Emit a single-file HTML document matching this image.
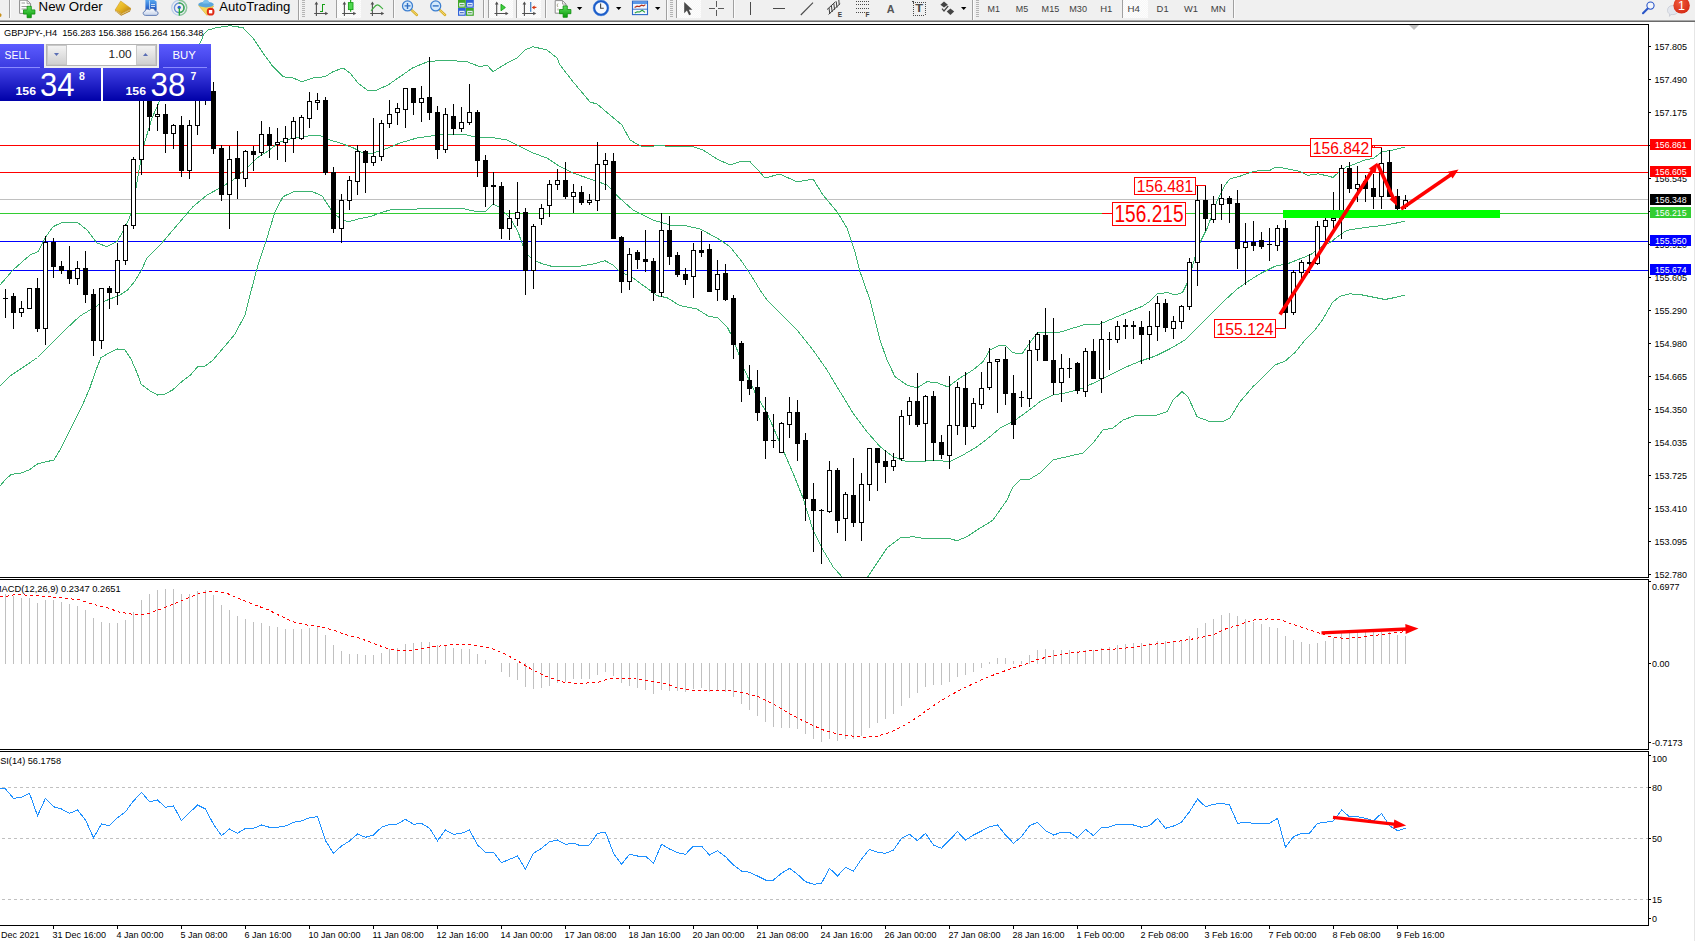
<!DOCTYPE html>
<html><head><meta charset="utf-8"><title>GBPJPY H4</title><style>html,body{margin:0;padding:0;background:#fff}</style></head><body>
<svg width="1695" height="941" viewBox="0 0 1695 941" font-family="Liberation Sans, sans-serif" style="display:block">
<defs>
<linearGradient id="gbtn" x1="0" y1="0" x2="0" y2="1"><stop offset="0" stop-color="#5c5cff"/><stop offset="1" stop-color="#3a3ae0"/></linearGradient>
<linearGradient id="gprice" x1="0" y1="0" x2="0" y2="1"><stop offset="0" stop-color="#4242e6"/><stop offset="1" stop-color="#0000a8"/></linearGradient>
<linearGradient id="gspin" x1="0" y1="0" x2="0" y2="1"><stop offset="0" stop-color="#f4f4f4"/><stop offset="1" stop-color="#cfcfcf"/></linearGradient>
<clipPath id="cmain"><rect x="0" y="25" width="1648" height="552"/></clipPath>
<clipPath id="cmacd"><rect x="0" y="580" width="1648" height="169"/></clipPath>
<clipPath id="crsi"><rect x="0" y="752" width="1648" height="173"/></clipPath>
</defs>
<rect x="0" y="0" width="1695" height="941" fill="#fff" />
<rect x="1694" y="22" width="1" height="919" fill="#e6e6e6" shape-rendering="crispEdges"/>
<defs>
<linearGradient id="ggold" x1="0" y1="0" x2="1" y2="1"><stop offset="0" stop-color="#f7d84a"/><stop offset="0.5" stop-color="#e6b422"/><stop offset="1" stop-color="#a8700c"/></linearGradient>
<linearGradient id="ggreen" x1="0" y1="0" x2="0" y2="1"><stop offset="0" stop-color="#5ee05e"/><stop offset="1" stop-color="#0a9a0a"/></linearGradient>
<linearGradient id="gblue" x1="0" y1="0" x2="0" y2="1"><stop offset="0" stop-color="#5aa8f0"/><stop offset="1" stop-color="#1a50c0"/></linearGradient>
<linearGradient id="gcloud" x1="0" y1="0" x2="0" y2="1"><stop offset="0" stop-color="#ffffff"/><stop offset="1" stop-color="#c4d2ea"/></linearGradient>
<radialGradient id="gred" cx="0.4" cy="0.35" r="0.7"><stop offset="0" stop-color="#f05a3c"/><stop offset="1" stop-color="#d42a14"/></radialGradient>
<pattern id="chk" width="2" height="2" patternUnits="userSpaceOnUse"><rect width="2" height="2" fill="#f7f7f7"/><rect width="1" height="1" fill="#fdfdfd"/><rect x="1" y="1" width="1" height="1" fill="#fdfdfd"/></pattern>
</defs>
<g>
<rect x="0" y="0" width="1695" height="20" fill="#f0f0f0"/>
<rect x="0" y="20" width="1695" height="1" fill="#a8a8a8" shape-rendering="crispEdges"/>
<rect x="0" y="21" width="1695" height="1" fill="#6a6a6a" shape-rendering="crispEdges"/>
<polygon points="0,13 1.6,14.5 1.2,16.5 0,17" fill="#c8901a"/>
<rect x="9" y="0" width="1" height="18" fill="#a0a0a0" shape-rendering="crispEdges"/><rect x="10" y="0" width="1" height="18" fill="#fbfbfb" shape-rendering="crispEdges"/>
<path d="M19.6,0.2h7.5l3.5,3.5v9.7h-11z" fill="#fdfdfd" stroke="#8c8c8c" stroke-width="1"/>
<path d="M27.1,0.2v3.5h3.5" fill="none" stroke="#8c8c8c" stroke-width="0.8"/>
<g stroke="#9a9a9a" stroke-width="1"><path d="M21.5,3h3.5M21.5,6.5h6M21.5,9h5"/></g>
<path d="M27.099999999999998,6.3h4.2v3.6h3.6v4.2h-3.6v3.6h-4.2v-3.6h-3.6v-4.2h3.6z" fill="url(#ggreen)" stroke="#0a8a0a" stroke-width="0.8"/>
<text x="38.6" y="11" font-size="12.5" fill="#000" textLength="64.2" lengthAdjust="spacingAndGlyphs">New Order</text>
<polygon points="115.1,10 122,13.6 131,8.6 130,11.4 121.2,15.8 115.1,11" fill="#b07a12"/>
<polygon points="120.7,1 131,8.5 122,13.6 115.1,10" fill="url(#ggold)" stroke="#c89018" stroke-width="0.5"/>
<path d="M115.6,11l5.8,3.4l8.4,-4.2" fill="none" stroke="#f6e2a0" stroke-width="0.7"/>
<path d="M145.4,0h8.8l2.4,1.4v9h-11.2z" fill="url(#gblue)"/>
<path d="M149.5,0.5v9" stroke="#cfe4fa" stroke-width="0.8"/><path d="M151,4.5h4M151,6.5h4" stroke="#e8f2fc" stroke-width="0.8"/>
<path d="M145.6,15.4c-2.8,0 -3.4,-3.6 -0.6,-4.2c0.3,-2.4 3.2,-2.8 4.3,-1.3c1.6,-2.4 5.6,-1.8 5.9,1.1c3.4,-0.4 4,4.1 0.9,4.4z" fill="url(#gcloud)" stroke="#5673ae" stroke-width="0.9"/>
<g fill="none" stroke-linecap="round"><circle cx="179.2" cy="7.8" r="7.5" stroke="#b8cdea" stroke-width="1.2"/><circle cx="179.2" cy="7.8" r="4.8" stroke="#6a8fd8" stroke-width="1.4"/>
<path d="M179.2,0.3a7.5,7.5 0 0 1 0,15" stroke="#8cc896" stroke-width="1.3"/><path d="M179.2,3a4.8,4.8 0 0 1 0,9.6" stroke="#3fae50" stroke-width="1.5"/></g>
<circle cx="179.2" cy="7.4" r="1.7" fill="#2c5fd0"/><rect x="178.7" y="8" width="1.3" height="7.4" fill="#24a83a"/>
<path d="M198.6,5.6l8.4,9.8l3,-4l3.6,-5.4z" fill="#f3d65c" stroke="#d8b030" stroke-width="0.6"/>
<ellipse cx="206" cy="4.6" rx="7.8" ry="2.8" fill="#5aa6dc"/><path d="M202.4,3.6c0.6,-3 1.6,-3.8 3.6,-3.8s3,0.8 3.6,3.8z" fill="#7cc0ec"/>
<circle cx="210.6" cy="11.7" r="3.9" fill="#e02a14"/><rect x="208.9" y="10" width="3.4" height="3.4" fill="#fff"/>
<text x="219.3" y="10.8" font-size="12.5" fill="#000" textLength="71" lengthAdjust="spacingAndGlyphs">AutoTrading</text>
<rect x="298" y="0" width="1" height="20" fill="#a0a0a0" shape-rendering="crispEdges"/><rect x="299" y="0" width="1" height="20" fill="#fbfbfb" shape-rendering="crispEdges"/>
<rect x="302" y="0" width="3" height="1" fill="#b4b4b4" shape-rendering="crispEdges"/>
<rect x="302" y="2" width="3" height="1" fill="#b4b4b4" shape-rendering="crispEdges"/>
<rect x="302" y="4" width="3" height="1" fill="#b4b4b4" shape-rendering="crispEdges"/>
<rect x="302" y="6" width="3" height="1" fill="#b4b4b4" shape-rendering="crispEdges"/>
<rect x="302" y="8" width="3" height="1" fill="#b4b4b4" shape-rendering="crispEdges"/>
<rect x="302" y="10" width="3" height="1" fill="#b4b4b4" shape-rendering="crispEdges"/>
<rect x="302" y="12" width="3" height="1" fill="#b4b4b4" shape-rendering="crispEdges"/>
<rect x="302" y="14" width="3" height="1" fill="#b4b4b4" shape-rendering="crispEdges"/>
<rect x="302" y="16" width="3" height="1" fill="#b4b4b4" shape-rendering="crispEdges"/>
<g stroke="#505050" stroke-width="1.1" fill="none"><path d="M316.4,3v13M314.2,13.5h13"/></g>
<polygon points="316.4,1.5 314.59999999999997,4.6 318.2,4.6" fill="#505050"/>
<polygon points="328.2,13.5 325.2,11.7 325.2,15.3" fill="#505050"/>
<g fill="#18a018" shape-rendering="crispEdges"><rect x="322" y="4" width="1.4" height="8"/><rect x="320" y="10.6" width="2" height="1.4"/><rect x="323" y="4" width="2.2" height="1.4"/></g>
<rect x="336" y="0" width="1" height="18" fill="#a0a0a0" shape-rendering="crispEdges"/><rect x="337" y="0" width="1" height="18" fill="#fbfbfb" shape-rendering="crispEdges"/>
<rect x="338" y="0" width="23" height="18" fill="url(#chk)" shape-rendering="crispEdges"/>
<g stroke="#505050" stroke-width="1.1" fill="none"><path d="M344.4,3v13M342.2,13.5h13"/></g>
<polygon points="344.4,1.5 342.59999999999997,4.6 346.2,4.6" fill="#505050"/>
<polygon points="356.2,13.5 353.2,11.7 353.2,15.3" fill="#505050"/>
<rect x="350.1" y="0" width="1.1" height="11.8" fill="#18a018"/><rect x="348.4" y="2.6" width="4.6" height="7" fill="#4fd84f" stroke="#18a018" stroke-width="0.9"/>
<g stroke="#505050" stroke-width="1.1" fill="none"><path d="M372.4,3v13M370.2,13.5h13"/></g>
<polygon points="372.4,1.5 370.59999999999997,4.6 374.2,4.6" fill="#505050"/>
<polygon points="384.2,13.5 381.2,11.7 381.2,15.3" fill="#505050"/>
<path d="M371,10.8c2.5,-2 4,-6 6.4,-6s3.4,3 5.6,4.2" stroke="#3fae3f" stroke-width="1.2" fill="none"/>
<rect x="393" y="0" width="1" height="18" fill="#a0a0a0" shape-rendering="crispEdges"/><rect x="394" y="0" width="1" height="18" fill="#fbfbfb" shape-rendering="crispEdges"/>
<path d="M411.1,9.6l5.8,5.4" stroke="#d8ae28" stroke-width="2.4" stroke-linecap="round"/><path d="M411.4,9.9l5.3,4.9" stroke="#f4e07a" stroke-width="0.9" stroke-linecap="round"/>
<circle cx="407.5" cy="5.9" r="5" fill="#d4e9fb" stroke="#3d7fd0" stroke-width="1.3"/>
<path d="M404.5,5.9h6M407.5,2.9v6" stroke="#2f6fc4" stroke-width="1.4"/>
<path d="M439.3,9.6l5.8,5.4" stroke="#d8ae28" stroke-width="2.4" stroke-linecap="round"/><path d="M439.59999999999997,9.9l5.3,4.9" stroke="#f4e07a" stroke-width="0.9" stroke-linecap="round"/>
<circle cx="435.7" cy="5.9" r="5" fill="#d4e9fb" stroke="#3d7fd0" stroke-width="1.3"/>
<path d="M432.7,5.9h6" stroke="#2f6fc4" stroke-width="1.4"/>
<rect x="458" y="0" width="7.8" height="7.8" fill="#3fa628"/><rect x="459.2" y="2.8" width="5.4" height="3.8" fill="#e8f0fa"/><rect x="460" y="4.3" width="3.8" height="0.9" fill="#2c8a1a"/>
<rect x="466" y="0" width="7.8" height="7.8" fill="#2f62d8"/><rect x="467.2" y="2.8" width="5.4" height="3.8" fill="#e8f0fa"/><rect x="468" y="4.3" width="3.8" height="0.9" fill="#1c44b4"/>
<rect x="458" y="8" width="7.8" height="7.8" fill="#2f62d8"/><rect x="459.2" y="10.8" width="5.4" height="3.8" fill="#e8f0fa"/><rect x="460" y="12.3" width="3.8" height="0.9" fill="#1c44b4"/>
<rect x="466" y="8" width="7.8" height="7.8" fill="#3fa628"/><rect x="467.2" y="10.8" width="5.4" height="3.8" fill="#e8f0fa"/><rect x="468" y="12.3" width="3.8" height="0.9" fill="#2c8a1a"/>
<rect x="483" y="0" width="1" height="18" fill="#a0a0a0" shape-rendering="crispEdges"/><rect x="484" y="0" width="1" height="18" fill="#fbfbfb" shape-rendering="crispEdges"/>
<rect x="488" y="0" width="1" height="18" fill="#a0a0a0" shape-rendering="crispEdges"/>
<rect x="489" y="0" width="24" height="18" fill="url(#chk)" shape-rendering="crispEdges"/>
<g stroke="#505050" stroke-width="1.1" fill="none"><path d="M496.7,3v13M494.5,13.5h13"/></g>
<polygon points="496.7,1.5 494.9,4.6 498.5,4.6" fill="#505050"/>
<polygon points="508.5,13.5 505.5,11.7 505.5,15.3" fill="#505050"/>
<polygon points="501,4.2 501,10.8 505.4,7.5" fill="#3fd03f" stroke="#18a018" stroke-width="0.9"/>
<rect x="516" y="0" width="1" height="18" fill="#a0a0a0" shape-rendering="crispEdges"/><rect x="517" y="0" width="1" height="18" fill="#fbfbfb" shape-rendering="crispEdges"/>
<rect x="518" y="0" width="23" height="18" fill="url(#chk)" shape-rendering="crispEdges"/>
<g stroke="#505050" stroke-width="1.1" fill="none"><path d="M524.4000000000001,3v13M522.2,13.5h13"/></g>
<polygon points="524.4000000000001,1.5 522.6,4.6 526.2,4.6" fill="#505050"/>
<polygon points="536.2,13.5 533.2,11.7 533.2,15.3" fill="#505050"/>
<rect x="530.2" y="2" width="1.1" height="9.8" fill="#2a6fb8"/><path d="M536.4,7.4h-3.6" stroke="#d83a14" stroke-width="1.2"/><polygon points="531.8,7.4 534.6,5.4 534.6,9.4" fill="#d83a14"/>
<rect x="545" y="0" width="1" height="18" fill="#a0a0a0" shape-rendering="crispEdges"/><rect x="546" y="0" width="1" height="18" fill="#fbfbfb" shape-rendering="crispEdges"/>
<path d="M555.2,0.6h7.300000000000001l3.5,3.5v9.1h-10.8z" fill="#fdfdfd" stroke="#8c8c8c" stroke-width="1"/>
<path d="M562.5,0.6v3.5h3.5" fill="none" stroke="#8c8c8c" stroke-width="0.8"/>
<path d="M558,3.5c-1,1 -1,2.5 0,3.5M558,8.5v2" stroke="#8a8a6a" stroke-width="0.8" fill="none"/>
<path d="M563.1,5.8999999999999995h4.2v3.6h3.6v4.2h-3.6v3.6h-4.2v-3.6h-3.6v-4.2h3.6z" fill="url(#ggreen)" stroke="#0a8a0a" stroke-width="0.8"/>
<polygon points="576.9,7 582.3,7 579.6,10" fill="#000"/>
<circle cx="601" cy="8" r="6.9" fill="#f6f9fd" stroke="#1c5cc8" stroke-width="2.2"/><circle cx="601" cy="8" r="7.9" fill="none" stroke="#5a94e4" stroke-width="0.5"/>
<path d="M600.6,3.6v4.6h3.2" stroke="#444" stroke-width="1.1" fill="none"/>
<polygon points="616,7 621.4,7 618.7,10" fill="#000"/>
<rect x="632.5" y="1.2" width="15" height="13.4" fill="#f4f8fd" stroke="#2c68c8" stroke-width="1.1"/><rect x="633" y="1.6" width="14" height="2.4" fill="#5a98e8"/>
<path d="M633,9.2h14" stroke="#2c68c8" stroke-width="0.9"/>
<path d="M634.6,7.6l2.4,-1.4l2.2,0.4l2.4,-1.4l2,0.6l1.8,-1.2" stroke="#b4301c" stroke-width="1.1" fill="none"/>
<path d="M634.8,13l2.4,-1.2l2.4,0.2l2.6,-1.8l2.8,2.2" stroke="#22a03a" stroke-width="1.1" fill="none"/>
<polygon points="655,7 660.4,7 657.7,10" fill="#000"/>
<rect x="666" y="0" width="1" height="20" fill="#a0a0a0" shape-rendering="crispEdges"/><rect x="667" y="0" width="1" height="20" fill="#fbfbfb" shape-rendering="crispEdges"/>
<rect x="670" y="0" width="3" height="1" fill="#b4b4b4" shape-rendering="crispEdges"/>
<rect x="670" y="2" width="3" height="1" fill="#b4b4b4" shape-rendering="crispEdges"/>
<rect x="670" y="4" width="3" height="1" fill="#b4b4b4" shape-rendering="crispEdges"/>
<rect x="670" y="6" width="3" height="1" fill="#b4b4b4" shape-rendering="crispEdges"/>
<rect x="670" y="8" width="3" height="1" fill="#b4b4b4" shape-rendering="crispEdges"/>
<rect x="670" y="10" width="3" height="1" fill="#b4b4b4" shape-rendering="crispEdges"/>
<rect x="670" y="12" width="3" height="1" fill="#b4b4b4" shape-rendering="crispEdges"/>
<rect x="670" y="14" width="3" height="1" fill="#b4b4b4" shape-rendering="crispEdges"/>
<rect x="670" y="16" width="3" height="1" fill="#b4b4b4" shape-rendering="crispEdges"/>
<rect x="676" y="0" width="1" height="18" fill="#a0a0a0" shape-rendering="crispEdges"/><rect x="677" y="0" width="1" height="18" fill="#fbfbfb" shape-rendering="crispEdges"/>
<rect x="678" y="0" width="23" height="18" fill="url(#chk)" shape-rendering="crispEdges"/>
<path d="M684.2,2v11.2l2.7,-2.6l2.2,4.6l1.9,-0.9l-2.2,-4.5h3.6z" fill="#4a4a4a"/>
<g fill="#5a5a5a" shape-rendering="crispEdges"><rect x="709" y="8" width="6" height="1"/><rect x="718" y="8" width="6" height="1"/><rect x="716" y="1" width="1" height="6"/><rect x="716" y="10" width="1" height="6"/></g>
<rect x="733" y="0" width="1" height="18" fill="#a0a0a0" shape-rendering="crispEdges"/><rect x="734" y="0" width="1" height="18" fill="#fbfbfb" shape-rendering="crispEdges"/>
<rect x="750" y="2" width="1" height="13" fill="#4a4a4a" shape-rendering="crispEdges"/>
<rect x="773" y="8" width="12" height="1" fill="#4a4a4a" shape-rendering="crispEdges"/>
<path d="M800.8,15L813,2.6" stroke="#4a4a4a" stroke-width="1.1"/>
<g stroke="#3c3c3c" stroke-width="1" fill="none"><path d="M827,9.6l8.4,-7.8M828.6,14.4l11.6,-10.8"/><path d="M829,8l0.8,6M831.4,5.8l0.8,6.2M833.8,3.6l0.8,6.2M836.2,1.4l0.8,6.2M838.8,0l0.4,4.6"/></g>
<text x="837.8" y="16.6" font-size="6.5" font-weight="bold" fill="#3c3c3c">E</text>
<path d="M856,1.7h13" stroke="#4a4a4a" stroke-width="1" stroke-dasharray="1 1" shape-rendering="crispEdges"/>
<path d="M856,4.9h13" stroke="#4a4a4a" stroke-width="1" stroke-dasharray="1 1" shape-rendering="crispEdges"/>
<path d="M856,8.5h13" stroke="#4a4a4a" stroke-width="1" stroke-dasharray="1 1" shape-rendering="crispEdges"/>
<path d="M856,12.5h9" stroke="#4a4a4a" stroke-width="1" stroke-dasharray="1 1" shape-rendering="crispEdges"/>
<text x="865.6" y="16.6" font-size="6.5" font-weight="bold" fill="#3c3c3c">F</text>
<text x="886.8" y="12.7" font-size="11.8" font-weight="bold" fill="#555" textLength="7.8" lengthAdjust="spacingAndGlyphs">A</text>
<rect x="913" y="2" width="12" height="13" fill="none" stroke="#4a4a4a" stroke-width="1" stroke-dasharray="1 1" shape-rendering="crispEdges"/>
<rect x="912" y="1" width="2" height="1" fill="#4a4a4a"/>
<text x="915.2" y="12.3" font-size="10.5" font-weight="bold" fill="#4a4a4a" textLength="7.8" lengthAdjust="spacingAndGlyphs">T</text>
<polygon points="944,1.4 947.8,4.8 944,7.4 940.4,4.8" fill="#444"/><polygon points="950.4,14.9 954.2,11.6 950.4,8.6 946.7,11.6" fill="#444"/>
<path d="M942,8.6l2,2.4l4.2,-5" stroke="#444" stroke-width="1.2" fill="none"/>
<polygon points="961,7 966.4,7 963.7,10" fill="#000"/>
<rect x="972" y="0" width="1" height="20" fill="#a0a0a0" shape-rendering="crispEdges"/><rect x="973" y="0" width="1" height="20" fill="#fbfbfb" shape-rendering="crispEdges"/>
<rect x="976" y="0" width="3" height="1" fill="#b4b4b4" shape-rendering="crispEdges"/>
<rect x="976" y="2" width="3" height="1" fill="#b4b4b4" shape-rendering="crispEdges"/>
<rect x="976" y="4" width="3" height="1" fill="#b4b4b4" shape-rendering="crispEdges"/>
<rect x="976" y="6" width="3" height="1" fill="#b4b4b4" shape-rendering="crispEdges"/>
<rect x="976" y="8" width="3" height="1" fill="#b4b4b4" shape-rendering="crispEdges"/>
<rect x="976" y="10" width="3" height="1" fill="#b4b4b4" shape-rendering="crispEdges"/>
<rect x="976" y="12" width="3" height="1" fill="#b4b4b4" shape-rendering="crispEdges"/>
<rect x="976" y="14" width="3" height="1" fill="#b4b4b4" shape-rendering="crispEdges"/>
<rect x="976" y="16" width="3" height="1" fill="#b4b4b4" shape-rendering="crispEdges"/>
<rect x="1122" y="0" width="1" height="18" fill="#a0a0a0" shape-rendering="crispEdges"/><rect x="1123" y="0" width="1" height="18" fill="#fbfbfb" shape-rendering="crispEdges"/>
<rect x="1123" y="0" width="25" height="18" fill="url(#chk)" shape-rendering="crispEdges"/>
<text transform="translate(987.5,11.8) scale(1,1.08)" font-size="9" fill="#404040" textLength="12.4" lengthAdjust="spacingAndGlyphs">M1</text>
<text transform="translate(1015.7,11.8) scale(1,1.08)" font-size="9" fill="#404040" textLength="12.4" lengthAdjust="spacingAndGlyphs">M5</text>
<text transform="translate(1041.6,11.8) scale(1,1.08)" font-size="9" fill="#404040" textLength="17.6" lengthAdjust="spacingAndGlyphs">M15</text>
<text transform="translate(1069.2,11.8) scale(1,1.08)" font-size="9" fill="#404040" textLength="17.8" lengthAdjust="spacingAndGlyphs">M30</text>
<text transform="translate(1100.2,11.8) scale(1,1.08)" font-size="9" fill="#404040" textLength="12.2" lengthAdjust="spacingAndGlyphs">H1</text>
<text transform="translate(1127.5,11.8) scale(1,1.08)" font-size="9" fill="#404040" textLength="12.4" lengthAdjust="spacingAndGlyphs">H4</text>
<text transform="translate(1156.6,11.8) scale(1,1.08)" font-size="9" fill="#404040" textLength="12" lengthAdjust="spacingAndGlyphs">D1</text>
<text transform="translate(1184,11.8) scale(1,1.08)" font-size="9" fill="#404040" textLength="14" lengthAdjust="spacingAndGlyphs">W1</text>
<text transform="translate(1210.8,11.8) scale(1,1.08)" font-size="9" fill="#404040" textLength="15" lengthAdjust="spacingAndGlyphs">MN</text>
<rect x="1233" y="0" width="1" height="18" fill="#a0a0a0" shape-rendering="crispEdges"/><rect x="1234" y="0" width="1" height="18" fill="#fbfbfb" shape-rendering="crispEdges"/>
<path d="M1648,8.2l-5,5" stroke="#2a56c8" stroke-width="2.1" stroke-linecap="round"/><circle cx="1650.5" cy="5.6" r="3.6" fill="#f4f6fb" stroke="#2a56c8" stroke-width="1.1"/>
<path d="M1667.5,10.4c0,-3 2.2,-4.8 5.2,-4.8s5.6,1.8 5.6,4.6s-2.4,4.4 -5.4,4.4c-0.6,0 -1.4,0 -2,-0.2l-1.4,2l0.2,-2.4c-1.4,-0.8 -2.2,-2 -2.2,-3.6z" fill="#e4e7ee" stroke="#c2c6d0" stroke-width="0.7"/>
<circle cx="1681.6" cy="5.4" r="8.2" fill="url(#gred)"/>
<text x="1681.4" y="9.8" font-size="12.5" fill="#fff" text-anchor="middle">1</text>
</g>
<g shape-rendering="crispEdges">
<rect x="0" y="24" width="1649" height="1" fill="#000" />
<rect x="1648" y="24" width="1" height="554" fill="#000" />
<rect x="0" y="577" width="1649" height="1" fill="#000" />
<rect x="0" y="579" width="1649" height="1" fill="#000" />
<rect x="1648" y="579" width="1" height="171" fill="#000" />
<rect x="0" y="749" width="1649" height="1" fill="#000" />
<rect x="0" y="751" width="1649" height="1" fill="#000" />
<rect x="1648" y="751" width="1" height="175" fill="#000" />
<rect x="0" y="925" width="1649" height="1" fill="#000" />
<rect x="0" y="145" width="1648" height="1" fill="#ff0000" />
<rect x="0" y="172" width="1648" height="1" fill="#ff0000" />
<rect x="0" y="199" width="1648" height="1" fill="#c0c0c0" />
<rect x="0" y="213" width="1648" height="1" fill="#32cd32" />
<rect x="0" y="241" width="1648" height="1" fill="#0000ff" />
<rect x="0" y="270" width="1648" height="1" fill="#0000ff" />
</g>
<g clip-path="url(#cmain)">
<polyline points="0.0,285.0 13.0,270.0 30.0,255.0 38.0,251.7 45.0,238.0 53.0,226.7 63.0,222.0 77.0,222.0 87.0,230.0 97.0,243.0 107.0,246.7 117.0,241.7 125.0,228.0 132.0,211.7 137.0,181.7 143.0,148.0 152.0,118.0 160.0,100.0 175.0,78.0 190.0,58.0 197.0,48.0 200.8,41.7 203.5,34.9 207.6,30.2 217.0,27.5 230.0,25.7 243.0,27.7 253.0,38.0 263.0,53.0 273.0,66.7 283.0,76.7 293.0,78.0 302.0,81.7 313.0,78.0 325.0,76.7 333.0,71.7 343.0,68.0 350.0,73.0 358.0,83.0 367.0,90.0 377.0,90.0 388.0,85.0 400.0,76.7 413.0,67.7 427.0,62.0 443.0,60.0 467.0,61.7 480.0,66.7 487.0,65.0 493.0,71.7 507.0,63.0 517.0,58.0 525.0,50.0 533.0,46.7 547.0,50.0 557.0,58.0 560.0,65.0 573.0,81.7 590.0,102.0 597.0,104.0 610.0,115.0 622.0,125.0 630.0,140.0 642.0,146.7 660.0,145.7 677.0,146.7 693.0,146.7 703.0,150.0 717.0,159.0 730.0,165.0 742.0,161.0 750.0,161.7 758.0,170.0 765.0,178.0 780.0,174.0 797.0,182.0 813.0,179.0 823.0,195.0 837.0,211.7 847.0,228.0 855.0,251.7 860.0,271.7 870.0,300.0 875.0,320.0 880.0,340.0 887.0,360.0 895.0,376.7 907.0,385.0 917.0,388.0 927.0,381.7 937.0,382.7 948.0,387.0 960.0,378.0 973.0,370.0 983.0,361.7 990.0,350.0 1000.0,345.0 1005.0,345.0 1013.0,352.7 1022.0,354.0 1030.0,342.5 1037.0,333.0 1047.0,332.7 1057.0,333.0 1067.0,330.0 1083.0,325.0 1100.0,324.0 1117.0,316.7 1133.0,310.0 1142.5,306.2 1150.0,301.2 1157.5,293.8 1167.5,292.5 1175.0,295.0 1182.5,292.5 1187.5,282.5 1195.0,257.5 1200.0,242.5 1207.5,227.5 1217.5,200.0 1225.0,185.0 1230.0,178.8 1240.0,176.2 1250.0,172.5 1262.0,170.0 1270.0,170.3 1275.7,167.0 1281.0,167.5 1291.0,169.6 1299.7,171.4 1308.0,175.3 1318.0,173.8 1326.6,175.7 1333.0,177.4 1339.4,171.7 1346.5,166.8 1355.0,164.0 1363.5,160.4 1373.4,158.3 1381.9,151.9 1390.4,150.5 1397.4,149.0 1404.5,147.0" fill="none" stroke="#3cb371" stroke-width="1" shape-rendering="crispEdges"/>
<polyline points="0.0,386.0 10.0,376.0 25.0,366.0 37.5,357.5 50.0,345.0 65.0,330.0 80.0,316.0 90.0,310.0 105.0,301.0 120.0,295.0 127.5,290.0 135.0,281.0 141.0,271.0 147.0,258.0 163.0,241.7 180.0,221.7 193.0,206.7 207.0,195.0 220.0,188.0 233.0,180.0 247.0,168.0 257.0,158.0 267.0,151.7 280.0,142.0 293.0,138.0 310.0,135.7 320.0,135.7 330.0,140.0 340.0,143.0 353.0,147.7 363.0,153.0 373.0,153.0 383.0,150.0 400.0,143.0 417.0,138.0 433.0,135.7 450.0,134.0 467.0,135.0 480.0,138.0 493.0,137.7 507.0,140.0 520.0,146.7 533.0,153.0 547.0,158.0 560.0,166.7 573.0,173.0 593.0,180.0 607.0,185.0 618.0,196.7 633.0,210.0 653.0,220.0 670.0,225.0 687.0,226.0 700.0,229.0 717.0,238.0 730.0,246.7 742.0,261.7 752.0,276.7 760.0,290.0 767.0,300.0 780.0,313.0 797.0,330.0 813.0,350.0 827.0,370.0 840.0,391.7 853.0,413.0 867.0,431.7 880.0,446.7 893.0,456.7 907.0,461.7 920.0,462.0 933.0,460.0 950.0,461.7 963.0,455.0 977.0,446.7 990.0,436.7 1000.0,428.0 1013.0,421.7 1027.0,411.7 1040.0,401.7 1053.0,395.0 1067.0,392.7 1083.0,388.0 1100.0,380.0 1112.5,373.8 1125.0,367.5 1140.0,361.2 1155.0,356.2 1170.0,348.8 1185.0,340.0 1200.0,325.0 1212.5,312.5 1225.0,300.0 1237.5,288.8 1250.0,280.0 1262.5,272.5 1275.0,266.2 1287.5,263.8 1300.0,258.8 1310.0,255.0 1319.6,248.0 1331.0,241.8 1339.4,235.4 1346.5,230.5 1355.0,229.0 1369.0,227.0 1383.0,225.5 1394.6,223.4 1404.5,221.3" fill="none" stroke="#3cb371" stroke-width="1" shape-rendering="crispEdges"/>
<polyline points="0.0,486.0 5.0,480.0 11.0,474.5 21.0,473.0 29.0,470.0 37.5,464.0 45.0,462.0 54.0,460.0 60.0,450.0 67.5,435.0 75.0,420.0 82.5,405.0 90.0,387.5 96.0,370.0 101.0,357.5 110.0,352.5 117.5,349.0 125.0,350.0 131.0,359.0 137.5,374.0 141.0,384.0 150.0,391.0 157.5,395.0 165.0,394.0 172.5,390.0 182.5,381.0 190.0,375.5 197.5,367.0 205.0,366.0 212.5,360.5 225.0,346.0 235.0,334.0 245.0,315.0 250.0,295.0 258.0,265.0 267.0,238.0 275.0,211.7 283.0,196.7 293.0,192.0 303.0,191.0 313.0,192.0 322.0,195.7 328.0,205.0 333.0,213.0 340.0,218.0 348.0,222.0 358.0,219.0 370.0,216.7 380.0,213.0 393.0,209.0 417.0,209.0 433.0,208.0 460.0,208.0 477.0,211.7 485.0,212.0 493.0,204.0 500.0,207.7 510.0,218.0 518.0,231.7 525.0,251.7 533.0,260.0 543.0,264.0 553.0,266.7 564.0,266.7 577.0,266.7 593.0,264.0 605.0,260.7 613.0,265.0 620.0,271.7 633.0,278.0 645.0,286.7 657.0,295.7 667.0,297.7 680.0,305.7 697.0,309.0 708.0,316.0 718.0,318.0 727.0,326.7 733.0,338.0 743.0,366.7 757.0,396.7 767.0,413.0 780.0,443.0 793.0,473.0 803.0,498.0 813.0,530.0 823.0,550.0 833.0,566.7 843.0,578.0 855.0,581.0 867.0,578.0 877.0,563.0 887.0,548.0 900.0,538.0 913.0,536.7 927.0,539.0 947.0,538.0 957.0,540.7 967.0,536.7 977.0,530.0 987.0,524.0 993.0,520.0 1007.0,500.0 1013.0,486.7 1020.0,480.0 1030.0,479.0 1040.0,473.0 1053.0,460.0 1067.0,456.7 1083.0,453.0 1093.0,443.0 1103.0,430.0 1113.0,428.0 1123.0,420.0 1137.0,415.0 1157.0,415.0 1167.0,411.7 1173.0,400.0 1182.0,391.7 1188.0,396.7 1197.0,416.7 1210.0,421.7 1223.0,421.7 1230.0,418.0 1240.0,401.7 1253.0,386.7 1262.5,377.5 1275.0,365.0 1285.0,361.2 1295.0,352.5 1305.0,340.0 1315.0,330.0 1322.5,320.0 1332.5,302.5 1340.0,296.2 1350.0,293.8 1362.5,295.0 1375.0,297.5 1385.0,299.5 1395.0,297.5 1405.0,295.0" fill="none" stroke="#3cb371" stroke-width="1" shape-rendering="crispEdges"/>
</g>
<g shape-rendering="crispEdges">
<rect x="5" y="289" width="1" height="29" fill="#000" />
<rect x="3" y="298" width="5" height="1" fill="#000" />
<rect x="13" y="293" width="1" height="36" fill="#000" />
<rect x="11" y="296" width="5" height="17" fill="#000" />
<rect x="21" y="301" width="1" height="16" fill="#000" />
<rect x="19" y="308" width="5" height="5" fill="#000" />
<rect x="20" y="309" width="3" height="3" fill="#fff" />
<rect x="29" y="288" width="1" height="21" fill="#000" />
<rect x="27" y="288" width="5" height="21" fill="#000" />
<rect x="28" y="289" width="3" height="19" fill="#fff" />
<rect x="37" y="278" width="1" height="54" fill="#000" />
<rect x="35" y="288" width="5" height="41" fill="#000" />
<rect x="45" y="236" width="1" height="109" fill="#000" />
<rect x="43" y="242" width="5" height="87" fill="#000" />
<rect x="44" y="243" width="3" height="85" fill="#fff" />
<rect x="53" y="238" width="1" height="40" fill="#000" />
<rect x="51" y="242" width="5" height="25" fill="#000" />
<rect x="61" y="261" width="1" height="13" fill="#000" />
<rect x="59" y="266" width="5" height="5" fill="#000" />
<rect x="69" y="246" width="1" height="38" fill="#000" />
<rect x="67" y="270" width="5" height="9" fill="#000" />
<rect x="77" y="261" width="1" height="24" fill="#000" />
<rect x="75" y="268" width="5" height="11" fill="#000" />
<rect x="76" y="269" width="3" height="9" fill="#fff" />
<rect x="85" y="251" width="1" height="52" fill="#000" />
<rect x="83" y="268" width="5" height="27" fill="#000" />
<rect x="93" y="289" width="1" height="67" fill="#000" />
<rect x="91" y="294" width="5" height="47" fill="#000" />
<rect x="101" y="288" width="1" height="61" fill="#000" />
<rect x="99" y="288" width="5" height="53" fill="#000" />
<rect x="100" y="289" width="3" height="51" fill="#fff" />
<rect x="109" y="286" width="1" height="23" fill="#000" />
<rect x="107" y="288" width="5" height="5" fill="#000" />
<rect x="117" y="243" width="1" height="62" fill="#000" />
<rect x="115" y="260" width="5" height="33" fill="#000" />
<rect x="116" y="261" width="3" height="31" fill="#fff" />
<rect x="125" y="224" width="1" height="41" fill="#000" />
<rect x="123" y="225" width="5" height="36" fill="#000" />
<rect x="124" y="226" width="3" height="34" fill="#fff" />
<rect x="133" y="157" width="1" height="72" fill="#000" />
<rect x="131" y="159" width="5" height="67" fill="#000" />
<rect x="132" y="160" width="3" height="65" fill="#fff" />
<rect x="141" y="95" width="1" height="80" fill="#000" />
<rect x="139" y="100" width="5" height="60" fill="#000" />
<rect x="140" y="101" width="3" height="58" fill="#fff" />
<rect x="149" y="90" width="1" height="41" fill="#000" />
<rect x="147" y="98" width="5" height="19" fill="#000" />
<rect x="157" y="104" width="1" height="27" fill="#000" />
<rect x="155" y="114" width="5" height="3" fill="#000" />
<rect x="156" y="115" width="3" height="1" fill="#fff" />
<rect x="165" y="104" width="1" height="49" fill="#000" />
<rect x="163" y="114" width="5" height="20" fill="#000" />
<rect x="173" y="124" width="1" height="25" fill="#000" />
<rect x="171" y="125" width="5" height="9" fill="#000" />
<rect x="172" y="126" width="3" height="7" fill="#fff" />
<rect x="181" y="116" width="1" height="61" fill="#000" />
<rect x="179" y="125" width="5" height="46" fill="#000" />
<rect x="189" y="120" width="1" height="59" fill="#000" />
<rect x="187" y="125" width="5" height="46" fill="#000" />
<rect x="188" y="126" width="3" height="44" fill="#fff" />
<rect x="197" y="96" width="1" height="39" fill="#000" />
<rect x="195" y="100" width="5" height="26" fill="#000" />
<rect x="196" y="101" width="3" height="24" fill="#fff" />
<rect x="205" y="85" width="1" height="20" fill="#000" />
<rect x="203" y="91" width="5" height="10" fill="#000" />
<rect x="204" y="92" width="3" height="8" fill="#fff" />
<rect x="213" y="82" width="1" height="72" fill="#000" />
<rect x="211" y="91" width="5" height="58" fill="#000" />
<rect x="221" y="145" width="1" height="56" fill="#000" />
<rect x="219" y="148" width="5" height="47" fill="#000" />
<rect x="229" y="146" width="1" height="83" fill="#000" />
<rect x="227" y="159" width="5" height="36" fill="#000" />
<rect x="228" y="160" width="3" height="34" fill="#fff" />
<rect x="237" y="131" width="1" height="68" fill="#000" />
<rect x="235" y="158" width="5" height="21" fill="#000" />
<rect x="245" y="150" width="1" height="37" fill="#000" />
<rect x="243" y="151" width="5" height="28" fill="#000" />
<rect x="244" y="152" width="3" height="26" fill="#fff" />
<rect x="253" y="146" width="1" height="25" fill="#000" />
<rect x="251" y="151" width="5" height="4" fill="#000" />
<rect x="261" y="121" width="1" height="35" fill="#000" />
<rect x="259" y="134" width="5" height="19" fill="#000" />
<rect x="260" y="135" width="3" height="17" fill="#fff" />
<rect x="269" y="127" width="1" height="31" fill="#000" />
<rect x="267" y="134" width="5" height="12" fill="#000" />
<rect x="277" y="128" width="1" height="32" fill="#000" />
<rect x="275" y="142" width="5" height="3" fill="#000" />
<rect x="276" y="143" width="3" height="1" fill="#fff" />
<rect x="285" y="126" width="1" height="36" fill="#000" />
<rect x="283" y="138" width="5" height="5" fill="#000" />
<rect x="284" y="139" width="3" height="3" fill="#fff" />
<rect x="293" y="117" width="1" height="36" fill="#000" />
<rect x="291" y="121" width="5" height="18" fill="#000" />
<rect x="292" y="122" width="3" height="16" fill="#fff" />
<rect x="301" y="115" width="1" height="25" fill="#000" />
<rect x="299" y="117" width="5" height="22" fill="#000" />
<rect x="300" y="118" width="3" height="20" fill="#fff" />
<rect x="309" y="92" width="1" height="36" fill="#000" />
<rect x="307" y="101" width="5" height="18" fill="#000" />
<rect x="308" y="102" width="3" height="16" fill="#fff" />
<rect x="317" y="93" width="1" height="17" fill="#000" />
<rect x="315" y="100" width="5" height="3" fill="#000" />
<rect x="316" y="101" width="3" height="1" fill="#fff" />
<rect x="325" y="97" width="1" height="78" fill="#000" />
<rect x="323" y="100" width="5" height="73" fill="#000" />
<rect x="333" y="167" width="1" height="66" fill="#000" />
<rect x="331" y="172" width="5" height="57" fill="#000" />
<rect x="341" y="194" width="1" height="49" fill="#000" />
<rect x="339" y="200" width="5" height="29" fill="#000" />
<rect x="340" y="201" width="3" height="27" fill="#fff" />
<rect x="349" y="176" width="1" height="34" fill="#000" />
<rect x="347" y="180" width="5" height="21" fill="#000" />
<rect x="348" y="181" width="3" height="19" fill="#fff" />
<rect x="357" y="145" width="1" height="50" fill="#000" />
<rect x="355" y="151" width="5" height="31" fill="#000" />
<rect x="356" y="152" width="3" height="29" fill="#fff" />
<rect x="365" y="150" width="1" height="43" fill="#000" />
<rect x="363" y="151" width="5" height="12" fill="#000" />
<rect x="373" y="118" width="1" height="48" fill="#000" />
<rect x="371" y="156" width="5" height="7" fill="#000" />
<rect x="372" y="157" width="3" height="5" fill="#fff" />
<rect x="381" y="120" width="1" height="41" fill="#000" />
<rect x="379" y="123" width="5" height="34" fill="#000" />
<rect x="380" y="124" width="3" height="32" fill="#fff" />
<rect x="389" y="100" width="1" height="28" fill="#000" />
<rect x="387" y="114" width="5" height="10" fill="#000" />
<rect x="388" y="115" width="3" height="8" fill="#fff" />
<rect x="397" y="103" width="1" height="22" fill="#000" />
<rect x="395" y="108" width="5" height="5" fill="#000" />
<rect x="396" y="109" width="3" height="3" fill="#fff" />
<rect x="405" y="88" width="1" height="40" fill="#000" />
<rect x="403" y="88" width="5" height="22" fill="#000" />
<rect x="404" y="89" width="3" height="20" fill="#fff" />
<rect x="413" y="88" width="1" height="27" fill="#000" />
<rect x="411" y="88" width="5" height="15" fill="#000" />
<rect x="421" y="86" width="1" height="36" fill="#000" />
<rect x="419" y="98" width="5" height="5" fill="#000" />
<rect x="420" y="99" width="3" height="3" fill="#fff" />
<rect x="429" y="57" width="1" height="63" fill="#000" />
<rect x="427" y="97" width="5" height="16" fill="#000" />
<rect x="437" y="106" width="1" height="53" fill="#000" />
<rect x="435" y="112" width="5" height="38" fill="#000" />
<rect x="445" y="108" width="1" height="45" fill="#000" />
<rect x="443" y="114" width="5" height="36" fill="#000" />
<rect x="444" y="115" width="3" height="34" fill="#fff" />
<rect x="453" y="104" width="1" height="31" fill="#000" />
<rect x="451" y="116" width="5" height="13" fill="#000" />
<rect x="461" y="107" width="1" height="25" fill="#000" />
<rect x="459" y="122" width="5" height="7" fill="#000" />
<rect x="460" y="123" width="3" height="5" fill="#fff" />
<rect x="469" y="84" width="1" height="41" fill="#000" />
<rect x="467" y="112" width="5" height="11" fill="#000" />
<rect x="468" y="113" width="3" height="9" fill="#fff" />
<rect x="477" y="110" width="1" height="67" fill="#000" />
<rect x="475" y="112" width="5" height="49" fill="#000" />
<rect x="485" y="155" width="1" height="52" fill="#000" />
<rect x="483" y="160" width="5" height="27" fill="#000" />
<rect x="493" y="172" width="1" height="33" fill="#000" />
<rect x="491" y="185" width="5" height="2" fill="#000" />
<rect x="501" y="182" width="1" height="57" fill="#000" />
<rect x="499" y="186" width="5" height="43" fill="#000" />
<rect x="509" y="210" width="1" height="30" fill="#000" />
<rect x="507" y="218" width="5" height="11" fill="#000" />
<rect x="508" y="219" width="3" height="9" fill="#fff" />
<rect x="517" y="182" width="1" height="44" fill="#000" />
<rect x="515" y="212" width="5" height="7" fill="#000" />
<rect x="516" y="213" width="3" height="5" fill="#fff" />
<rect x="525" y="208" width="1" height="87" fill="#000" />
<rect x="523" y="212" width="5" height="59" fill="#000" />
<rect x="533" y="224" width="1" height="65" fill="#000" />
<rect x="531" y="226" width="5" height="45" fill="#000" />
<rect x="532" y="227" width="3" height="43" fill="#fff" />
<rect x="541" y="204" width="1" height="21" fill="#000" />
<rect x="539" y="208" width="5" height="11" fill="#000" />
<rect x="540" y="209" width="3" height="9" fill="#fff" />
<rect x="549" y="180" width="1" height="37" fill="#000" />
<rect x="547" y="184" width="5" height="22" fill="#000" />
<rect x="548" y="185" width="3" height="20" fill="#fff" />
<rect x="557" y="169" width="1" height="21" fill="#000" />
<rect x="555" y="180" width="5" height="5" fill="#000" />
<rect x="556" y="181" width="3" height="3" fill="#fff" />
<rect x="565" y="162" width="1" height="37" fill="#000" />
<rect x="563" y="180" width="5" height="17" fill="#000" />
<rect x="573" y="184" width="1" height="29" fill="#000" />
<rect x="571" y="192" width="5" height="5" fill="#000" />
<rect x="572" y="193" width="3" height="3" fill="#fff" />
<rect x="581" y="186" width="1" height="19" fill="#000" />
<rect x="579" y="192" width="5" height="11" fill="#000" />
<rect x="589" y="194" width="1" height="11" fill="#000" />
<rect x="587" y="200" width="5" height="3" fill="#000" />
<rect x="588" y="201" width="3" height="1" fill="#fff" />
<rect x="597" y="142" width="1" height="69" fill="#000" />
<rect x="595" y="164" width="5" height="37" fill="#000" />
<rect x="596" y="165" width="3" height="35" fill="#fff" />
<rect x="605" y="153" width="1" height="37" fill="#000" />
<rect x="603" y="160" width="5" height="5" fill="#000" />
<rect x="604" y="161" width="3" height="3" fill="#fff" />
<rect x="613" y="153" width="1" height="86" fill="#000" />
<rect x="611" y="161" width="5" height="78" fill="#000" />
<rect x="621" y="236" width="1" height="57" fill="#000" />
<rect x="619" y="237" width="5" height="45" fill="#000" />
<rect x="629" y="248" width="1" height="42" fill="#000" />
<rect x="627" y="254" width="5" height="28" fill="#000" />
<rect x="628" y="255" width="3" height="26" fill="#fff" />
<rect x="637" y="250" width="1" height="19" fill="#000" />
<rect x="635" y="252" width="5" height="8" fill="#000" />
<rect x="645" y="230" width="1" height="42" fill="#000" />
<rect x="643" y="259" width="5" height="3" fill="#000" />
<rect x="653" y="258" width="1" height="43" fill="#000" />
<rect x="651" y="261" width="5" height="32" fill="#000" />
<rect x="661" y="213" width="1" height="84" fill="#000" />
<rect x="659" y="230" width="5" height="63" fill="#000" />
<rect x="660" y="231" width="3" height="61" fill="#fff" />
<rect x="669" y="216" width="1" height="49" fill="#000" />
<rect x="667" y="230" width="5" height="27" fill="#000" />
<rect x="677" y="252" width="1" height="25" fill="#000" />
<rect x="675" y="255" width="5" height="20" fill="#000" />
<rect x="685" y="268" width="1" height="17" fill="#000" />
<rect x="683" y="274" width="5" height="6" fill="#000" />
<rect x="693" y="243" width="1" height="55" fill="#000" />
<rect x="691" y="250" width="5" height="27" fill="#000" />
<rect x="692" y="251" width="3" height="25" fill="#fff" />
<rect x="701" y="231" width="1" height="26" fill="#000" />
<rect x="699" y="250" width="5" height="3" fill="#000" />
<rect x="709" y="244" width="1" height="48" fill="#000" />
<rect x="707" y="249" width="5" height="43" fill="#000" />
<rect x="717" y="260" width="1" height="41" fill="#000" />
<rect x="715" y="274" width="5" height="16" fill="#000" />
<rect x="716" y="275" width="3" height="14" fill="#fff" />
<rect x="725" y="264" width="1" height="37" fill="#000" />
<rect x="723" y="273" width="5" height="27" fill="#000" />
<rect x="733" y="295" width="1" height="64" fill="#000" />
<rect x="731" y="298" width="5" height="47" fill="#000" />
<rect x="741" y="341" width="1" height="61" fill="#000" />
<rect x="739" y="343" width="5" height="38" fill="#000" />
<rect x="749" y="365" width="1" height="30" fill="#000" />
<rect x="747" y="380" width="5" height="9" fill="#000" />
<rect x="757" y="370" width="1" height="51" fill="#000" />
<rect x="755" y="387" width="5" height="26" fill="#000" />
<rect x="765" y="397" width="1" height="62" fill="#000" />
<rect x="763" y="412" width="5" height="29" fill="#000" />
<rect x="773" y="414" width="1" height="34" fill="#000" />
<rect x="771" y="440" width="5" height="1" fill="#000" />
<rect x="781" y="422" width="1" height="31" fill="#000" />
<rect x="779" y="423" width="5" height="30" fill="#000" />
<rect x="780" y="424" width="3" height="28" fill="#fff" />
<rect x="789" y="397" width="1" height="41" fill="#000" />
<rect x="787" y="412" width="5" height="13" fill="#000" />
<rect x="788" y="413" width="3" height="11" fill="#fff" />
<rect x="797" y="400" width="1" height="61" fill="#000" />
<rect x="795" y="412" width="5" height="32" fill="#000" />
<rect x="805" y="433" width="1" height="88" fill="#000" />
<rect x="803" y="440" width="5" height="59" fill="#000" />
<rect x="813" y="483" width="1" height="69" fill="#000" />
<rect x="811" y="499" width="5" height="12" fill="#000" />
<rect x="821" y="509" width="1" height="55" fill="#000" />
<rect x="819" y="510" width="5" height="1" fill="#000" />
<rect x="829" y="461" width="1" height="52" fill="#000" />
<rect x="827" y="470" width="5" height="42" fill="#000" />
<rect x="828" y="471" width="3" height="40" fill="#fff" />
<rect x="837" y="468" width="1" height="65" fill="#000" />
<rect x="835" y="470" width="5" height="51" fill="#000" />
<rect x="845" y="492" width="1" height="49" fill="#000" />
<rect x="843" y="494" width="5" height="25" fill="#000" />
<rect x="844" y="495" width="3" height="23" fill="#fff" />
<rect x="853" y="458" width="1" height="69" fill="#000" />
<rect x="851" y="495" width="5" height="28" fill="#000" />
<rect x="861" y="473" width="1" height="68" fill="#000" />
<rect x="859" y="484" width="5" height="39" fill="#000" />
<rect x="860" y="485" width="3" height="37" fill="#fff" />
<rect x="869" y="448" width="1" height="53" fill="#000" />
<rect x="867" y="448" width="5" height="37" fill="#000" />
<rect x="868" y="449" width="3" height="35" fill="#fff" />
<rect x="877" y="448" width="1" height="43" fill="#000" />
<rect x="875" y="448" width="5" height="15" fill="#000" />
<rect x="885" y="450" width="1" height="33" fill="#000" />
<rect x="883" y="461" width="5" height="6" fill="#000" />
<rect x="893" y="453" width="1" height="18" fill="#000" />
<rect x="891" y="460" width="5" height="7" fill="#000" />
<rect x="892" y="461" width="3" height="5" fill="#fff" />
<rect x="901" y="410" width="1" height="51" fill="#000" />
<rect x="899" y="416" width="5" height="43" fill="#000" />
<rect x="900" y="417" width="3" height="41" fill="#fff" />
<rect x="909" y="397" width="1" height="28" fill="#000" />
<rect x="907" y="401" width="5" height="15" fill="#000" />
<rect x="908" y="402" width="3" height="13" fill="#fff" />
<rect x="917" y="373" width="1" height="54" fill="#000" />
<rect x="915" y="401" width="5" height="24" fill="#000" />
<rect x="925" y="395" width="1" height="66" fill="#000" />
<rect x="923" y="396" width="5" height="28" fill="#000" />
<rect x="924" y="397" width="3" height="26" fill="#fff" />
<rect x="933" y="391" width="1" height="70" fill="#000" />
<rect x="931" y="396" width="5" height="47" fill="#000" />
<rect x="941" y="435" width="1" height="24" fill="#000" />
<rect x="939" y="442" width="5" height="13" fill="#000" />
<rect x="949" y="376" width="1" height="93" fill="#000" />
<rect x="947" y="425" width="5" height="31" fill="#000" />
<rect x="948" y="426" width="3" height="29" fill="#fff" />
<rect x="957" y="382" width="1" height="53" fill="#000" />
<rect x="955" y="387" width="5" height="39" fill="#000" />
<rect x="956" y="388" width="3" height="37" fill="#fff" />
<rect x="965" y="372" width="1" height="73" fill="#000" />
<rect x="963" y="388" width="5" height="39" fill="#000" />
<rect x="973" y="398" width="1" height="31" fill="#000" />
<rect x="971" y="403" width="5" height="24" fill="#000" />
<rect x="972" y="404" width="3" height="22" fill="#fff" />
<rect x="981" y="372" width="1" height="37" fill="#000" />
<rect x="979" y="388" width="5" height="17" fill="#000" />
<rect x="980" y="389" width="3" height="15" fill="#fff" />
<rect x="989" y="348" width="1" height="42" fill="#000" />
<rect x="987" y="362" width="5" height="26" fill="#000" />
<rect x="988" y="363" width="3" height="24" fill="#fff" />
<rect x="997" y="359" width="1" height="54" fill="#000" />
<rect x="995" y="359" width="5" height="3" fill="#000" />
<rect x="996" y="360" width="3" height="1" fill="#fff" />
<rect x="1005" y="347" width="1" height="58" fill="#000" />
<rect x="1003" y="359" width="5" height="35" fill="#000" />
<rect x="1013" y="375" width="1" height="64" fill="#000" />
<rect x="1011" y="393" width="5" height="32" fill="#000" />
<rect x="1021" y="391" width="1" height="16" fill="#000" />
<rect x="1019" y="397" width="5" height="1" fill="#000" />
<rect x="1029" y="340" width="1" height="67" fill="#000" />
<rect x="1027" y="350" width="5" height="49" fill="#000" />
<rect x="1028" y="351" width="3" height="47" fill="#fff" />
<rect x="1037" y="332" width="1" height="29" fill="#000" />
<rect x="1035" y="334" width="5" height="16" fill="#000" />
<rect x="1036" y="335" width="3" height="14" fill="#fff" />
<rect x="1045" y="308" width="1" height="53" fill="#000" />
<rect x="1043" y="335" width="5" height="26" fill="#000" />
<rect x="1053" y="318" width="1" height="77" fill="#000" />
<rect x="1051" y="360" width="5" height="23" fill="#000" />
<rect x="1061" y="354" width="1" height="48" fill="#000" />
<rect x="1059" y="368" width="5" height="15" fill="#000" />
<rect x="1060" y="369" width="3" height="13" fill="#fff" />
<rect x="1069" y="358" width="1" height="20" fill="#000" />
<rect x="1067" y="368" width="5" height="1" fill="#000" />
<rect x="1077" y="362" width="1" height="32" fill="#000" />
<rect x="1075" y="363" width="5" height="28" fill="#000" />
<rect x="1085" y="348" width="1" height="49" fill="#000" />
<rect x="1083" y="351" width="5" height="41" fill="#000" />
<rect x="1084" y="352" width="3" height="39" fill="#fff" />
<rect x="1093" y="339" width="1" height="40" fill="#000" />
<rect x="1091" y="351" width="5" height="28" fill="#000" />
<rect x="1101" y="321" width="1" height="72" fill="#000" />
<rect x="1099" y="339" width="5" height="40" fill="#000" />
<rect x="1100" y="340" width="3" height="38" fill="#fff" />
<rect x="1109" y="332" width="1" height="38" fill="#000" />
<rect x="1107" y="339" width="5" height="1" fill="#000" />
<rect x="1117" y="321" width="1" height="22" fill="#000" />
<rect x="1115" y="326" width="5" height="14" fill="#000" />
<rect x="1116" y="327" width="3" height="12" fill="#fff" />
<rect x="1125" y="319" width="1" height="20" fill="#000" />
<rect x="1123" y="325" width="5" height="2" fill="#000" />
<rect x="1133" y="321" width="1" height="18" fill="#000" />
<rect x="1131" y="325" width="5" height="2" fill="#000" />
<rect x="1141" y="321" width="1" height="43" fill="#000" />
<rect x="1139" y="327" width="5" height="8" fill="#000" />
<rect x="1149" y="311" width="1" height="49" fill="#000" />
<rect x="1147" y="326" width="5" height="9" fill="#000" />
<rect x="1148" y="327" width="3" height="7" fill="#fff" />
<rect x="1157" y="296" width="1" height="45" fill="#000" />
<rect x="1155" y="303" width="5" height="24" fill="#000" />
<rect x="1156" y="304" width="3" height="22" fill="#fff" />
<rect x="1165" y="299" width="1" height="33" fill="#000" />
<rect x="1163" y="303" width="5" height="25" fill="#000" />
<rect x="1173" y="316" width="1" height="23" fill="#000" />
<rect x="1171" y="321" width="5" height="8" fill="#000" />
<rect x="1172" y="322" width="3" height="6" fill="#fff" />
<rect x="1181" y="305" width="1" height="24" fill="#000" />
<rect x="1179" y="306" width="5" height="16" fill="#000" />
<rect x="1180" y="307" width="3" height="14" fill="#fff" />
<rect x="1189" y="258" width="1" height="52" fill="#000" />
<rect x="1187" y="262" width="5" height="45" fill="#000" />
<rect x="1188" y="263" width="3" height="43" fill="#fff" />
<rect x="1197" y="186" width="1" height="100" fill="#000" />
<rect x="1195" y="200" width="5" height="63" fill="#000" />
<rect x="1196" y="201" width="3" height="61" fill="#fff" />
<rect x="1205" y="186" width="1" height="45" fill="#000" />
<rect x="1203" y="200" width="5" height="19" fill="#000" />
<rect x="1213" y="196" width="1" height="27" fill="#000" />
<rect x="1211" y="204" width="5" height="16" fill="#000" />
<rect x="1212" y="205" width="3" height="14" fill="#fff" />
<rect x="1221" y="184" width="1" height="36" fill="#000" />
<rect x="1219" y="198" width="5" height="7" fill="#000" />
<rect x="1220" y="199" width="3" height="5" fill="#fff" />
<rect x="1229" y="196" width="1" height="27" fill="#000" />
<rect x="1227" y="198" width="5" height="6" fill="#000" />
<rect x="1237" y="190" width="1" height="79" fill="#000" />
<rect x="1235" y="203" width="5" height="46" fill="#000" />
<rect x="1245" y="223" width="1" height="62" fill="#000" />
<rect x="1243" y="242" width="5" height="6" fill="#000" />
<rect x="1244" y="243" width="3" height="4" fill="#fff" />
<rect x="1253" y="221" width="1" height="30" fill="#000" />
<rect x="1251" y="242" width="5" height="4" fill="#000" />
<rect x="1261" y="232" width="1" height="17" fill="#000" />
<rect x="1259" y="240" width="5" height="7" fill="#000" />
<rect x="1269" y="228" width="1" height="33" fill="#000" />
<rect x="1267" y="244" width="5" height="1" fill="#000" />
<rect x="1277" y="225" width="1" height="26" fill="#000" />
<rect x="1275" y="228" width="5" height="18" fill="#000" />
<rect x="1276" y="229" width="3" height="16" fill="#fff" />
<rect x="1285" y="220" width="1" height="109" fill="#000" />
<rect x="1283" y="228" width="5" height="85" fill="#000" />
<rect x="1293" y="270" width="1" height="45" fill="#000" />
<rect x="1291" y="272" width="5" height="41" fill="#000" />
<rect x="1292" y="273" width="3" height="39" fill="#fff" />
<rect x="1301" y="260" width="1" height="20" fill="#000" />
<rect x="1299" y="262" width="5" height="11" fill="#000" />
<rect x="1300" y="263" width="3" height="9" fill="#fff" />
<rect x="1309" y="254" width="1" height="19" fill="#000" />
<rect x="1307" y="262" width="5" height="2" fill="#000" />
<rect x="1317" y="221" width="1" height="44" fill="#000" />
<rect x="1315" y="226" width="5" height="38" fill="#000" />
<rect x="1316" y="227" width="3" height="36" fill="#fff" />
<rect x="1325" y="218" width="1" height="23" fill="#000" />
<rect x="1323" y="220" width="5" height="7" fill="#000" />
<rect x="1324" y="221" width="3" height="5" fill="#fff" />
<rect x="1333" y="192" width="1" height="37" fill="#000" />
<rect x="1331" y="218" width="5" height="3" fill="#000" />
<rect x="1332" y="219" width="3" height="1" fill="#fff" />
<rect x="1341" y="165" width="1" height="74" fill="#000" />
<rect x="1339" y="168" width="5" height="51" fill="#000" />
<rect x="1340" y="169" width="3" height="49" fill="#fff" />
<rect x="1349" y="162" width="1" height="31" fill="#000" />
<rect x="1347" y="168" width="5" height="21" fill="#000" />
<rect x="1357" y="166" width="1" height="36" fill="#000" />
<rect x="1355" y="184" width="5" height="5" fill="#000" />
<rect x="1356" y="185" width="3" height="3" fill="#fff" />
<rect x="1365" y="175" width="1" height="27" fill="#000" />
<rect x="1363" y="181" width="5" height="8" fill="#000" />
<rect x="1373" y="174" width="1" height="35" fill="#000" />
<rect x="1371" y="188" width="5" height="9" fill="#000" />
<rect x="1381" y="147" width="1" height="62" fill="#000" />
<rect x="1379" y="163" width="5" height="34" fill="#000" />
<rect x="1380" y="164" width="3" height="32" fill="#fff" />
<rect x="1389" y="150" width="1" height="47" fill="#000" />
<rect x="1387" y="162" width="5" height="35" fill="#000" />
<rect x="1397" y="189" width="1" height="22" fill="#000" />
<rect x="1395" y="196" width="5" height="13" fill="#000" />
<rect x="1405" y="195" width="1" height="14" fill="#000" />
<rect x="1403" y="200" width="5" height="7" fill="#000" />
<rect x="1404" y="201" width="3" height="5" fill="#fff" />
</g>
<rect x="1283" y="210" width="217" height="8" fill="#00ff00" shape-rendering="crispEdges"/>
<line x1="1280.0" y1="314.5" x2="1373.2" y2="169.2" stroke="#ff0000" stroke-width="3.6"/>
<polygon points="1377.5,162.5 1375.6,173.1 1368.6,168.7" fill="#ff0000"/>
<line x1="1377.5" y1="164.0" x2="1393.8" y2="199.2" stroke="#ff0000" stroke-width="3.6"/>
<polygon points="1397.0,206.0 1389.3,199.1 1396.7,195.7" fill="#ff0000"/>
<line x1="1401.0" y1="209.0" x2="1451.9" y2="174.0" stroke="#ff0000" stroke-width="3.6"/>
<polygon points="1458.5,169.5 1452.6,178.5 1447.9,171.8" fill="#ff0000"/>
<rect x="1310.5" y="138.5" width="61" height="18" fill="#fff" stroke="#ff0000" stroke-width="1" shape-rendering="crispEdges"/>
<text transform="translate(1341.0,154.1) scale(1,1)" font-size="17.3" fill="#ff0000" text-anchor="middle" font-weight="normal" textLength="56.5" lengthAdjust="spacingAndGlyphs" >156.842</text>
<rect x="1134.5" y="177.5" width="61" height="17" fill="#fff" stroke="#ff0000" stroke-width="1" shape-rendering="crispEdges"/>
<text transform="translate(1165.0,191.5) scale(1,1)" font-size="17.3" fill="#ff0000" text-anchor="middle" font-weight="normal" textLength="56.5" lengthAdjust="spacingAndGlyphs" >156.481</text>
<rect x="1112.5" y="202.5" width="73" height="23" fill="#fff" stroke="#ff0000" stroke-width="1" shape-rendering="crispEdges"/>
<text transform="translate(1149.0,222.2) scale(1,1)" font-size="23" fill="#ff0000" text-anchor="middle" font-weight="normal" textLength="69" lengthAdjust="spacingAndGlyphs" >156.215</text>
<rect x="1214.5" y="319.5" width="61" height="18" fill="#fff" stroke="#ff0000" stroke-width="1" shape-rendering="crispEdges"/>
<text transform="translate(1245.0,334.7) scale(1,1)" font-size="17.3" fill="#ff0000" text-anchor="middle" font-weight="normal" textLength="57" lengthAdjust="spacingAndGlyphs" >155.124</text>
<g shape-rendering="crispEdges">
<rect x="1196" y="185" width="10" height="1" fill="#ff0000" />
<rect x="1102" y="213" width="10" height="1" fill="#ff0000" />
<rect x="1276" y="328" width="10" height="1" fill="#ff0000" />
<rect x="1375" y="147" width="7" height="1" fill="#ff0000" />
<rect x="1372.5" y="145.5" width="2" height="2" fill="#fff" stroke="#ff0000" stroke-width="1"/>
</g>
<polygon points="1409,25 1419,25 1414,30" fill="#c0c0c0"/>
<g shape-rendering="crispEdges">
<rect x="1649" y="46" width="2" height="1" fill="#000" />
<rect x="1649" y="79" width="2" height="1" fill="#000" />
<rect x="1649" y="112" width="2" height="1" fill="#000" />
<rect x="1649" y="145" width="2" height="1" fill="#000" />
<rect x="1649" y="178" width="2" height="1" fill="#000" />
<rect x="1649" y="211" width="2" height="1" fill="#000" />
<rect x="1649" y="244" width="2" height="1" fill="#000" />
<rect x="1649" y="277" width="2" height="1" fill="#000" />
<rect x="1649" y="310" width="2" height="1" fill="#000" />
<rect x="1649" y="343" width="2" height="1" fill="#000" />
<rect x="1649" y="376" width="2" height="1" fill="#000" />
<rect x="1649" y="409" width="2" height="1" fill="#000" />
<rect x="1649" y="442" width="2" height="1" fill="#000" />
<rect x="1649" y="475" width="2" height="1" fill="#000" />
<rect x="1649" y="508" width="2" height="1" fill="#000" />
<rect x="1649" y="541" width="2" height="1" fill="#000" />
<rect x="1649" y="574" width="2" height="1" fill="#000" />
</g>
<text transform="translate(1654.5,50.2) scale(1,1.06)" font-size="9" fill="#000" text-anchor="start" font-weight="normal" textLength="32.5" lengthAdjust="spacingAndGlyphs" >157.805</text>
<text transform="translate(1654.5,83.2) scale(1,1.06)" font-size="9" fill="#000" text-anchor="start" font-weight="normal" textLength="32.5" lengthAdjust="spacingAndGlyphs" >157.490</text>
<text transform="translate(1654.5,116.2) scale(1,1.06)" font-size="9" fill="#000" text-anchor="start" font-weight="normal" textLength="32.5" lengthAdjust="spacingAndGlyphs" >157.175</text>
<text transform="translate(1654.5,149.2) scale(1,1.06)" font-size="9" fill="#000" text-anchor="start" font-weight="normal" textLength="32.5" lengthAdjust="spacingAndGlyphs" >156.860</text>
<text transform="translate(1654.5,182.2) scale(1,1.06)" font-size="9" fill="#000" text-anchor="start" font-weight="normal" textLength="32.5" lengthAdjust="spacingAndGlyphs" >156.545</text>
<text transform="translate(1654.5,215.2) scale(1,1.06)" font-size="9" fill="#000" text-anchor="start" font-weight="normal" textLength="32.5" lengthAdjust="spacingAndGlyphs" >156.230</text>
<text transform="translate(1654.5,248.2) scale(1,1.06)" font-size="9" fill="#000" text-anchor="start" font-weight="normal" textLength="32.5" lengthAdjust="spacingAndGlyphs" >155.920</text>
<text transform="translate(1654.5,281.2) scale(1,1.06)" font-size="9" fill="#000" text-anchor="start" font-weight="normal" textLength="32.5" lengthAdjust="spacingAndGlyphs" >155.605</text>
<text transform="translate(1654.5,314.2) scale(1,1.06)" font-size="9" fill="#000" text-anchor="start" font-weight="normal" textLength="32.5" lengthAdjust="spacingAndGlyphs" >155.290</text>
<text transform="translate(1654.5,347.2) scale(1,1.06)" font-size="9" fill="#000" text-anchor="start" font-weight="normal" textLength="32.5" lengthAdjust="spacingAndGlyphs" >154.980</text>
<text transform="translate(1654.5,380.2) scale(1,1.06)" font-size="9" fill="#000" text-anchor="start" font-weight="normal" textLength="32.5" lengthAdjust="spacingAndGlyphs" >154.665</text>
<text transform="translate(1654.5,413.2) scale(1,1.06)" font-size="9" fill="#000" text-anchor="start" font-weight="normal" textLength="32.5" lengthAdjust="spacingAndGlyphs" >154.350</text>
<text transform="translate(1654.5,446.2) scale(1,1.06)" font-size="9" fill="#000" text-anchor="start" font-weight="normal" textLength="32.5" lengthAdjust="spacingAndGlyphs" >154.035</text>
<text transform="translate(1654.5,479.2) scale(1,1.06)" font-size="9" fill="#000" text-anchor="start" font-weight="normal" textLength="32.5" lengthAdjust="spacingAndGlyphs" >153.725</text>
<text transform="translate(1654.5,512.2) scale(1,1.06)" font-size="9" fill="#000" text-anchor="start" font-weight="normal" textLength="32.5" lengthAdjust="spacingAndGlyphs" >153.410</text>
<text transform="translate(1654.5,545.2) scale(1,1.06)" font-size="9" fill="#000" text-anchor="start" font-weight="normal" textLength="32.5" lengthAdjust="spacingAndGlyphs" >153.095</text>
<text transform="translate(1654.5,578.2) scale(1,1.06)" font-size="9" fill="#000" text-anchor="start" font-weight="normal" textLength="32.5" lengthAdjust="spacingAndGlyphs" >152.780</text>
<rect x="1650" y="139" width="41" height="11" fill="#ff0000" shape-rendering="crispEdges"/>
<text transform="translate(1655,147.8) scale(1,1.06)" font-size="9" fill="#fff" text-anchor="start" font-weight="normal" textLength="31.5" lengthAdjust="spacingAndGlyphs" >156.861</text>
<rect x="1650" y="166" width="41" height="11" fill="#ff0000" shape-rendering="crispEdges"/>
<text transform="translate(1655,174.8) scale(1,1.06)" font-size="9" fill="#fff" text-anchor="start" font-weight="normal" textLength="31.5" lengthAdjust="spacingAndGlyphs" >156.605</text>
<rect x="1650" y="194" width="41" height="11" fill="#000" shape-rendering="crispEdges"/>
<text transform="translate(1655,202.8) scale(1,1.06)" font-size="9" fill="#fff" text-anchor="start" font-weight="normal" textLength="31.5" lengthAdjust="spacingAndGlyphs" >156.348</text>
<rect x="1650" y="207" width="41" height="11" fill="#32cd32" shape-rendering="crispEdges"/>
<text transform="translate(1655,215.8) scale(1,1.06)" font-size="9" fill="#fff" text-anchor="start" font-weight="normal" textLength="31.5" lengthAdjust="spacingAndGlyphs" >156.215</text>
<rect x="1650" y="235" width="41" height="11" fill="#0000ff" shape-rendering="crispEdges"/>
<text transform="translate(1655,243.8) scale(1,1.06)" font-size="9" fill="#fff" text-anchor="start" font-weight="normal" textLength="31.5" lengthAdjust="spacingAndGlyphs" >155.950</text>
<rect x="1650" y="264" width="41" height="11" fill="#0000ff" shape-rendering="crispEdges"/>
<text transform="translate(1655,272.8) scale(1,1.06)" font-size="9" fill="#fff" text-anchor="start" font-weight="normal" textLength="31.5" lengthAdjust="spacingAndGlyphs" >155.674</text>
<text transform="translate(4,36) scale(1,1.06)" font-size="9" fill="#000" text-anchor="start" font-weight="normal" textLength="199.5" lengthAdjust="spacingAndGlyphs" >GBPJPY-,H4&#160;&#160;156.283 156.388 156.264 156.348</text>
<g shape-rendering="crispEdges">
<rect x="5" y="594" width="1" height="70" fill="#c0c0c0" />
<rect x="13" y="596" width="1" height="68" fill="#c0c0c0" />
<rect x="21" y="598" width="1" height="66" fill="#c0c0c0" />
<rect x="29" y="598" width="1" height="66" fill="#c0c0c0" />
<rect x="37" y="603" width="1" height="61" fill="#c0c0c0" />
<rect x="45" y="600" width="1" height="64" fill="#c0c0c0" />
<rect x="53" y="600" width="1" height="64" fill="#c0c0c0" />
<rect x="61" y="602" width="1" height="62" fill="#c0c0c0" />
<rect x="69" y="604" width="1" height="60" fill="#c0c0c0" />
<rect x="77" y="606" width="1" height="58" fill="#c0c0c0" />
<rect x="85" y="610" width="1" height="54" fill="#c0c0c0" />
<rect x="93" y="618" width="1" height="46" fill="#c0c0c0" />
<rect x="101" y="622" width="1" height="42" fill="#c0c0c0" />
<rect x="109" y="623" width="1" height="41" fill="#c0c0c0" />
<rect x="117" y="623" width="1" height="41" fill="#c0c0c0" />
<rect x="125" y="620" width="1" height="44" fill="#c0c0c0" />
<rect x="133" y="612" width="1" height="52" fill="#c0c0c0" />
<rect x="141" y="600" width="1" height="64" fill="#c0c0c0" />
<rect x="149" y="594" width="1" height="70" fill="#c0c0c0" />
<rect x="157" y="590" width="1" height="74" fill="#c0c0c0" />
<rect x="165" y="589" width="1" height="75" fill="#c0c0c0" />
<rect x="173" y="589" width="1" height="75" fill="#c0c0c0" />
<rect x="181" y="594" width="1" height="70" fill="#c0c0c0" />
<rect x="189" y="594" width="1" height="70" fill="#c0c0c0" />
<rect x="197" y="591" width="1" height="73" fill="#c0c0c0" />
<rect x="205" y="590" width="1" height="74" fill="#c0c0c0" />
<rect x="213" y="595" width="1" height="69" fill="#c0c0c0" />
<rect x="221" y="605" width="1" height="59" fill="#c0c0c0" />
<rect x="229" y="610" width="1" height="54" fill="#c0c0c0" />
<rect x="237" y="616" width="1" height="48" fill="#c0c0c0" />
<rect x="245" y="619" width="1" height="45" fill="#c0c0c0" />
<rect x="253" y="622" width="1" height="42" fill="#c0c0c0" />
<rect x="261" y="623" width="1" height="41" fill="#c0c0c0" />
<rect x="269" y="626" width="1" height="38" fill="#c0c0c0" />
<rect x="277" y="627" width="1" height="37" fill="#c0c0c0" />
<rect x="285" y="629" width="1" height="35" fill="#c0c0c0" />
<rect x="293" y="629" width="1" height="35" fill="#c0c0c0" />
<rect x="301" y="629" width="1" height="35" fill="#c0c0c0" />
<rect x="309" y="628" width="1" height="36" fill="#c0c0c0" />
<rect x="317" y="627" width="1" height="37" fill="#c0c0c0" />
<rect x="325" y="635" width="1" height="29" fill="#c0c0c0" />
<rect x="333" y="645" width="1" height="19" fill="#c0c0c0" />
<rect x="341" y="651" width="1" height="13" fill="#c0c0c0" />
<rect x="349" y="654" width="1" height="10" fill="#c0c0c0" />
<rect x="357" y="654" width="1" height="10" fill="#c0c0c0" />
<rect x="365" y="655" width="1" height="9" fill="#c0c0c0" />
<rect x="373" y="655" width="1" height="9" fill="#c0c0c0" />
<rect x="381" y="653" width="1" height="11" fill="#c0c0c0" />
<rect x="389" y="649" width="1" height="15" fill="#c0c0c0" />
<rect x="397" y="648" width="1" height="16" fill="#c0c0c0" />
<rect x="405" y="644" width="1" height="20" fill="#c0c0c0" />
<rect x="413" y="643" width="1" height="21" fill="#c0c0c0" />
<rect x="421" y="642" width="1" height="22" fill="#c0c0c0" />
<rect x="429" y="642" width="1" height="22" fill="#c0c0c0" />
<rect x="437" y="645" width="1" height="19" fill="#c0c0c0" />
<rect x="445" y="646" width="1" height="18" fill="#c0c0c0" />
<rect x="453" y="648" width="1" height="16" fill="#c0c0c0" />
<rect x="461" y="649" width="1" height="15" fill="#c0c0c0" />
<rect x="469" y="649" width="1" height="15" fill="#c0c0c0" />
<rect x="477" y="654" width="1" height="10" fill="#c0c0c0" />
<rect x="485" y="660" width="1" height="4" fill="#c0c0c0" />
<rect x="501" y="663" width="1" height="9" fill="#c0c0c0" />
<rect x="509" y="663" width="1" height="14" fill="#c0c0c0" />
<rect x="517" y="663" width="1" height="17" fill="#c0c0c0" />
<rect x="525" y="663" width="1" height="24" fill="#c0c0c0" />
<rect x="533" y="663" width="1" height="26" fill="#c0c0c0" />
<rect x="541" y="663" width="1" height="25" fill="#c0c0c0" />
<rect x="549" y="663" width="1" height="23" fill="#c0c0c0" />
<rect x="557" y="663" width="1" height="20" fill="#c0c0c0" />
<rect x="565" y="663" width="1" height="19" fill="#c0c0c0" />
<rect x="573" y="663" width="1" height="16" fill="#c0c0c0" />
<rect x="581" y="663" width="1" height="16" fill="#c0c0c0" />
<rect x="589" y="663" width="1" height="16" fill="#c0c0c0" />
<rect x="597" y="663" width="1" height="12" fill="#c0c0c0" />
<rect x="605" y="663" width="1" height="9" fill="#c0c0c0" />
<rect x="613" y="663" width="1" height="13" fill="#c0c0c0" />
<rect x="621" y="663" width="1" height="20" fill="#c0c0c0" />
<rect x="629" y="663" width="1" height="23" fill="#c0c0c0" />
<rect x="637" y="663" width="1" height="25" fill="#c0c0c0" />
<rect x="645" y="663" width="1" height="27" fill="#c0c0c0" />
<rect x="653" y="663" width="1" height="31" fill="#c0c0c0" />
<rect x="661" y="663" width="1" height="27" fill="#c0c0c0" />
<rect x="669" y="663" width="1" height="28" fill="#c0c0c0" />
<rect x="677" y="663" width="1" height="28" fill="#c0c0c0" />
<rect x="685" y="663" width="1" height="29" fill="#c0c0c0" />
<rect x="693" y="663" width="1" height="26" fill="#c0c0c0" />
<rect x="701" y="663" width="1" height="25" fill="#c0c0c0" />
<rect x="709" y="663" width="1" height="29" fill="#c0c0c0" />
<rect x="717" y="663" width="1" height="28" fill="#c0c0c0" />
<rect x="725" y="663" width="1" height="29" fill="#c0c0c0" />
<rect x="733" y="663" width="1" height="34" fill="#c0c0c0" />
<rect x="741" y="663" width="1" height="41" fill="#c0c0c0" />
<rect x="749" y="663" width="1" height="47" fill="#c0c0c0" />
<rect x="757" y="663" width="1" height="53" fill="#c0c0c0" />
<rect x="765" y="663" width="1" height="59" fill="#c0c0c0" />
<rect x="773" y="663" width="1" height="64" fill="#c0c0c0" />
<rect x="781" y="663" width="1" height="65" fill="#c0c0c0" />
<rect x="789" y="663" width="1" height="65" fill="#c0c0c0" />
<rect x="797" y="663" width="1" height="66" fill="#c0c0c0" />
<rect x="805" y="663" width="1" height="71" fill="#c0c0c0" />
<rect x="813" y="663" width="1" height="76" fill="#c0c0c0" />
<rect x="821" y="663" width="1" height="79" fill="#c0c0c0" />
<rect x="829" y="663" width="1" height="76" fill="#c0c0c0" />
<rect x="837" y="663" width="1" height="78" fill="#c0c0c0" />
<rect x="845" y="663" width="1" height="76" fill="#c0c0c0" />
<rect x="853" y="663" width="1" height="76" fill="#c0c0c0" />
<rect x="861" y="663" width="1" height="73" fill="#c0c0c0" />
<rect x="869" y="663" width="1" height="65" fill="#c0c0c0" />
<rect x="877" y="663" width="1" height="60" fill="#c0c0c0" />
<rect x="885" y="663" width="1" height="56" fill="#c0c0c0" />
<rect x="893" y="663" width="1" height="51" fill="#c0c0c0" />
<rect x="901" y="663" width="1" height="43" fill="#c0c0c0" />
<rect x="909" y="663" width="1" height="35" fill="#c0c0c0" />
<rect x="917" y="663" width="1" height="30" fill="#c0c0c0" />
<rect x="925" y="663" width="1" height="24" fill="#c0c0c0" />
<rect x="933" y="663" width="1" height="22" fill="#c0c0c0" />
<rect x="941" y="663" width="1" height="22" fill="#c0c0c0" />
<rect x="949" y="663" width="1" height="19" fill="#c0c0c0" />
<rect x="957" y="663" width="1" height="14" fill="#c0c0c0" />
<rect x="965" y="663" width="1" height="12" fill="#c0c0c0" />
<rect x="973" y="663" width="1" height="9" fill="#c0c0c0" />
<rect x="981" y="663" width="1" height="5" fill="#c0c0c0" />
<rect x="989" y="662" width="1" height="2" fill="#c0c0c0" />
<rect x="997" y="658" width="1" height="6" fill="#c0c0c0" />
<rect x="1005" y="658" width="1" height="6" fill="#c0c0c0" />
<rect x="1013" y="661" width="1" height="3" fill="#c0c0c0" />
<rect x="1021" y="661" width="1" height="3" fill="#c0c0c0" />
<rect x="1029" y="655" width="1" height="9" fill="#c0c0c0" />
<rect x="1037" y="650" width="1" height="14" fill="#c0c0c0" />
<rect x="1045" y="649" width="1" height="15" fill="#c0c0c0" />
<rect x="1053" y="650" width="1" height="14" fill="#c0c0c0" />
<rect x="1061" y="650" width="1" height="14" fill="#c0c0c0" />
<rect x="1069" y="650" width="1" height="14" fill="#c0c0c0" />
<rect x="1077" y="651" width="1" height="13" fill="#c0c0c0" />
<rect x="1085" y="650" width="1" height="14" fill="#c0c0c0" />
<rect x="1093" y="650" width="1" height="14" fill="#c0c0c0" />
<rect x="1101" y="648" width="1" height="16" fill="#c0c0c0" />
<rect x="1109" y="647" width="1" height="17" fill="#c0c0c0" />
<rect x="1117" y="645" width="1" height="19" fill="#c0c0c0" />
<rect x="1125" y="644" width="1" height="20" fill="#c0c0c0" />
<rect x="1133" y="643" width="1" height="21" fill="#c0c0c0" />
<rect x="1141" y="643" width="1" height="21" fill="#c0c0c0" />
<rect x="1149" y="643" width="1" height="21" fill="#c0c0c0" />
<rect x="1157" y="641" width="1" height="23" fill="#c0c0c0" />
<rect x="1165" y="641" width="1" height="23" fill="#c0c0c0" />
<rect x="1173" y="641" width="1" height="23" fill="#c0c0c0" />
<rect x="1181" y="640" width="1" height="24" fill="#c0c0c0" />
<rect x="1189" y="636" width="1" height="28" fill="#c0c0c0" />
<rect x="1197" y="628" width="1" height="36" fill="#c0c0c0" />
<rect x="1205" y="623" width="1" height="41" fill="#c0c0c0" />
<rect x="1213" y="619" width="1" height="45" fill="#c0c0c0" />
<rect x="1221" y="615" width="1" height="49" fill="#c0c0c0" />
<rect x="1229" y="613" width="1" height="51" fill="#c0c0c0" />
<rect x="1237" y="616" width="1" height="48" fill="#c0c0c0" />
<rect x="1245" y="619" width="1" height="45" fill="#c0c0c0" />
<rect x="1253" y="622" width="1" height="42" fill="#c0c0c0" />
<rect x="1261" y="624" width="1" height="40" fill="#c0c0c0" />
<rect x="1269" y="627" width="1" height="37" fill="#c0c0c0" />
<rect x="1277" y="628" width="1" height="36" fill="#c0c0c0" />
<rect x="1285" y="636" width="1" height="28" fill="#c0c0c0" />
<rect x="1293" y="640" width="1" height="24" fill="#c0c0c0" />
<rect x="1301" y="642" width="1" height="22" fill="#c0c0c0" />
<rect x="1309" y="644" width="1" height="20" fill="#c0c0c0" />
<rect x="1317" y="643" width="1" height="21" fill="#c0c0c0" />
<rect x="1325" y="641" width="1" height="23" fill="#c0c0c0" />
<rect x="1333" y="638" width="1" height="26" fill="#c0c0c0" />
<rect x="1341" y="633" width="1" height="31" fill="#c0c0c0" />
<rect x="1349" y="632" width="1" height="32" fill="#c0c0c0" />
<rect x="1357" y="632" width="1" height="32" fill="#c0c0c0" />
<rect x="1365" y="632" width="1" height="32" fill="#c0c0c0" />
<rect x="1373" y="632" width="1" height="32" fill="#c0c0c0" />
<rect x="1381" y="632" width="1" height="32" fill="#c0c0c0" />
<rect x="1389" y="632" width="1" height="32" fill="#c0c0c0" />
<rect x="1397" y="635" width="1" height="29" fill="#c0c0c0" />
<rect x="1405" y="636" width="1" height="28" fill="#c0c0c0" />
<rect x="1649" y="581" width="2" height="1" fill="#000" />
<rect x="1649" y="663" width="2" height="1" fill="#000" />
<rect x="1649" y="742" width="2" height="1" fill="#000" />
</g>
<g clip-path="url(#cmacd)">
<polyline points="0.0,597.0 8.0,596.0 15.0,594.6 21.0,594.0 26.0,595.4 40.0,596.0 47.0,596.3 53.0,597.3 67.0,598.3 80.0,600.0 93.0,604.3 107.0,607.7 120.0,612.3 133.0,614.3 147.0,614.0 160.0,609.3 173.0,604.3 187.0,598.3 200.0,593.3 213.0,591.0 227.0,593.3 240.0,599.0 253.0,604.3 267.0,609.3 280.0,615.7 293.0,621.7 307.0,625.0 320.0,626.7 333.0,630.0 347.0,635.0 360.0,638.3 373.0,643.3 387.0,648.3 400.0,651.0 413.0,650.0 427.0,647.7 440.0,646.0 453.0,644.3 467.0,644.3 480.0,646.0 493.0,649.0 507.0,655.0 520.0,662.3 533.0,670.0 547.0,676.7 560.0,681.0 565.0,682.7 582.0,683.3 598.0,682.3 608.0,679.0 632.0,678.3 648.0,681.0 665.0,683.3 678.0,688.3 692.0,690.3 712.0,690.3 728.0,690.3 745.0,693.3 758.0,696.7 772.0,703.3 785.0,711.0 798.0,718.3 812.0,725.0 825.0,730.7 838.0,734.0 852.0,736.0 865.0,737.3 878.0,736.0 892.0,731.7 905.0,725.0 918.0,716.7 932.0,706.7 945.0,698.3 958.0,691.0 972.0,684.3 985.0,678.3 998.0,673.3 1012.0,668.3 1025.0,664.3 1038.0,659.3 1052.0,656.0 1065.0,653.3 1082.0,651.7 1098.0,650.0 1115.0,649.0 1130.0,647.7 1147.0,645.0 1163.0,643.3 1180.0,641.0 1197.0,638.3 1213.0,635.0 1227.0,628.3 1237.0,625.7 1247.0,621.7 1257.0,619.3 1267.0,619.0 1280.0,619.3 1290.0,623.3 1300.0,626.7 1310.0,630.0 1320.0,633.3 1330.0,636.7 1343.0,638.3 1357.0,637.7 1370.0,636.0 1383.0,634.3 1397.0,632.3 1407.0,631.7" fill="none" stroke="#ff0000" stroke-width="1" stroke-dasharray="3 3" shape-rendering="crispEdges"/>
</g>
<text transform="translate(-6.3,592) scale(1,1.06)" font-size="9" fill="#000" text-anchor="start" font-weight="normal" textLength="127" lengthAdjust="spacingAndGlyphs" >MACD(12,26,9) 0.2347 0.2651</text>
<text transform="translate(1652,590) scale(1,1.06)" font-size="9" fill="#000" text-anchor="start" font-weight="normal" textLength="27.5" lengthAdjust="spacingAndGlyphs" >0.6977</text>
<text transform="translate(1652,666.5) scale(1,1.06)" font-size="9" fill="#000" text-anchor="start" font-weight="normal" textLength="17.5" lengthAdjust="spacingAndGlyphs" >0.00</text>
<text transform="translate(1652,746) scale(1,1.06)" font-size="9" fill="#000" text-anchor="start" font-weight="normal" textLength="30.5" lengthAdjust="spacingAndGlyphs" >-0.7173</text>
<g shape-rendering="crispEdges">
<line x1="0" y1="787.5" x2="1648" y2="787.5" stroke="#c0c0c0" stroke-width="1" stroke-dasharray="3 3" stroke-dashoffset="4"/>
<line x1="0" y1="838.5" x2="1648" y2="838.5" stroke="#c0c0c0" stroke-width="1" stroke-dasharray="3 3" stroke-dashoffset="4"/>
<line x1="0" y1="899.5" x2="1648" y2="899.5" stroke="#c0c0c0" stroke-width="1" stroke-dasharray="3 3" stroke-dashoffset="4"/>
<rect x="1649" y="755" width="2" height="1" fill="#000" />
<rect x="1649" y="787" width="2" height="1" fill="#000" />
<rect x="1649" y="838" width="2" height="1" fill="#000" />
<rect x="1649" y="899" width="2" height="1" fill="#000" />
<rect x="1649" y="918" width="2" height="1" fill="#000" />
</g>
<polyline points="-3.0,788.5 5.5,789.0 13.5,798.3 21.5,797.3 29.5,793.3 37.5,815.7 45.5,798.3 53.5,806.7 61.5,809.0 69.5,813.3 77.5,810.0 85.5,820.0 93.5,837.7 101.5,824.0 109.5,825.7 117.5,817.7 125.5,811.7 133.5,801.0 141.5,792.3 149.5,801.7 157.5,800.0 165.5,807.3 173.5,806.0 181.5,820.7 189.5,812.7 197.5,805.0 205.5,809.0 213.5,824.3 221.5,835.7 229.5,829.0 237.5,833.3 245.5,828.3 253.5,828.3 261.5,825.0 269.5,827.3 277.5,827.3 285.5,826.0 293.5,822.3 301.5,821.0 309.5,817.7 317.5,816.7 325.5,840.7 333.5,853.3 341.5,846.0 349.5,841.0 357.5,834.0 365.5,837.3 373.5,835.0 381.5,827.3 389.5,824.3 397.5,824.0 405.5,819.3 413.5,824.3 421.5,823.3 429.5,828.3 437.5,840.7 445.5,830.0 453.5,834.3 461.5,833.3 469.5,830.0 477.5,845.0 485.5,852.3 493.5,852.3 501.5,862.7 509.5,859.3 517.5,856.0 525.5,869.3 533.5,853.3 541.5,848.3 549.5,841.7 557.5,840.0 565.5,844.3 573.5,843.3 581.5,846.0 589.5,845.0 597.5,833.3 605.5,832.3 613.5,853.3 621.5,864.3 629.5,854.3 637.5,856.0 645.5,856.0 653.5,863.3 661.5,844.3 669.5,849.0 677.5,852.7 685.5,854.3 693.5,846.0 701.5,846.0 709.5,855.0 717.5,850.7 725.5,856.7 733.5,865.0 741.5,871.0 749.5,872.3 757.5,876.0 765.5,880.0 773.5,880.0 781.5,873.3 789.5,868.3 797.5,874.3 805.5,881.7 813.5,884.3 821.5,883.3 829.5,868.3 837.5,876.0 845.5,867.3 853.5,871.0 861.5,859.0 869.5,849.3 877.5,852.3 885.5,853.3 893.5,850.0 901.5,838.3 909.5,834.3 917.5,840.7 925.5,833.3 933.5,845.0 941.5,848.3 949.5,840.0 957.5,831.7 965.5,840.0 973.5,835.0 981.5,831.0 989.5,826.7 997.5,825.0 1005.5,835.0 1013.5,843.3 1021.5,836.7 1029.5,825.7 1037.5,822.3 1045.5,830.7 1053.5,835.0 1061.5,832.3 1069.5,832.3 1077.5,837.7 1085.5,829.3 1093.5,835.7 1101.5,827.3 1109.5,827.0 1117.5,824.3 1125.5,824.3 1133.5,825.0 1141.5,827.3 1149.5,825.7 1157.5,818.3 1165.5,828.3 1173.5,826.0 1181.5,822.3 1189.5,811.7 1197.5,799.0 1205.5,806.7 1213.5,804.3 1221.5,803.3 1229.5,805.0 1237.5,823.3 1245.5,822.3 1253.5,823.3 1261.5,823.3 1269.5,823.3 1277.5,818.3 1285.5,847.3 1293.5,836.7 1301.5,833.3 1309.5,833.3 1317.5,823.3 1325.5,822.3 1333.5,821.0 1341.5,810.0 1349.5,816.7 1357.5,816.7 1365.5,818.3 1373.5,821.0 1381.5,813.3 1389.5,825.7 1397.5,830.7 1405.5,828.3" fill="none" stroke="#1e90ff" stroke-width="1" shape-rendering="crispEdges"/>
<text transform="translate(-6.5,764) scale(1,1.06)" font-size="9" fill="#000" text-anchor="start" font-weight="normal" textLength="67.5" lengthAdjust="spacingAndGlyphs" >RSI(14) 56.1758</text>
<text transform="translate(1652,761.5999999999999) scale(1,1.06)" font-size="9" fill="#000" text-anchor="start" font-weight="normal" >100</text>
<text transform="translate(1652,790.5999999999999) scale(1,1.06)" font-size="9" fill="#000" text-anchor="start" font-weight="normal" >80</text>
<text transform="translate(1652,841.5999999999999) scale(1,1.06)" font-size="9" fill="#000" text-anchor="start" font-weight="normal" >50</text>
<text transform="translate(1652,902.5999999999999) scale(1,1.06)" font-size="9" fill="#000" text-anchor="start" font-weight="normal" >15</text>
<text transform="translate(1652,921.5999999999999) scale(1,1.06)" font-size="9" fill="#000" text-anchor="start" font-weight="normal" >0</text>
<g shape-rendering="crispEdges">
<rect x="53" y="926" width="1" height="3" fill="#000" />
<rect x="117" y="926" width="1" height="3" fill="#000" />
<rect x="181" y="926" width="1" height="3" fill="#000" />
<rect x="245" y="926" width="1" height="3" fill="#000" />
<rect x="309" y="926" width="1" height="3" fill="#000" />
<rect x="373" y="926" width="1" height="3" fill="#000" />
<rect x="437" y="926" width="1" height="3" fill="#000" />
<rect x="501" y="926" width="1" height="3" fill="#000" />
<rect x="565" y="926" width="1" height="3" fill="#000" />
<rect x="629" y="926" width="1" height="3" fill="#000" />
<rect x="693" y="926" width="1" height="3" fill="#000" />
<rect x="757" y="926" width="1" height="3" fill="#000" />
<rect x="821" y="926" width="1" height="3" fill="#000" />
<rect x="885" y="926" width="1" height="3" fill="#000" />
<rect x="949" y="926" width="1" height="3" fill="#000" />
<rect x="1013" y="926" width="1" height="3" fill="#000" />
<rect x="1077" y="926" width="1" height="3" fill="#000" />
<rect x="1141" y="926" width="1" height="3" fill="#000" />
<rect x="1205" y="926" width="1" height="3" fill="#000" />
<rect x="1269" y="926" width="1" height="3" fill="#000" />
<rect x="1333" y="926" width="1" height="3" fill="#000" />
<rect x="1397" y="926" width="1" height="3" fill="#000" />
</g>
<text transform="translate(-11.5,937.5) scale(1,1.06)" font-size="9" fill="#000" text-anchor="start" font-weight="normal" >30 Dec 2021</text>
<text transform="translate(52.5,937.5) scale(1,1.06)" font-size="9" fill="#000" text-anchor="start" font-weight="normal" >31 Dec 16:00</text>
<text transform="translate(116.5,937.5) scale(1,1.06)" font-size="9" fill="#000" text-anchor="start" font-weight="normal" >4 Jan 00:00</text>
<text transform="translate(180.5,937.5) scale(1,1.06)" font-size="9" fill="#000" text-anchor="start" font-weight="normal" >5 Jan 08:00</text>
<text transform="translate(244.5,937.5) scale(1,1.06)" font-size="9" fill="#000" text-anchor="start" font-weight="normal" >6 Jan 16:00</text>
<text transform="translate(308.5,937.5) scale(1,1.06)" font-size="9" fill="#000" text-anchor="start" font-weight="normal" >10 Jan 00:00</text>
<text transform="translate(372.5,937.5) scale(1,1.06)" font-size="9" fill="#000" text-anchor="start" font-weight="normal" >11 Jan 08:00</text>
<text transform="translate(436.5,937.5) scale(1,1.06)" font-size="9" fill="#000" text-anchor="start" font-weight="normal" >12 Jan 16:00</text>
<text transform="translate(500.5,937.5) scale(1,1.06)" font-size="9" fill="#000" text-anchor="start" font-weight="normal" >14 Jan 00:00</text>
<text transform="translate(564.5,937.5) scale(1,1.06)" font-size="9" fill="#000" text-anchor="start" font-weight="normal" >17 Jan 08:00</text>
<text transform="translate(628.5,937.5) scale(1,1.06)" font-size="9" fill="#000" text-anchor="start" font-weight="normal" >18 Jan 16:00</text>
<text transform="translate(692.5,937.5) scale(1,1.06)" font-size="9" fill="#000" text-anchor="start" font-weight="normal" >20 Jan 00:00</text>
<text transform="translate(756.5,937.5) scale(1,1.06)" font-size="9" fill="#000" text-anchor="start" font-weight="normal" >21 Jan 08:00</text>
<text transform="translate(820.5,937.5) scale(1,1.06)" font-size="9" fill="#000" text-anchor="start" font-weight="normal" >24 Jan 16:00</text>
<text transform="translate(884.5,937.5) scale(1,1.06)" font-size="9" fill="#000" text-anchor="start" font-weight="normal" >26 Jan 00:00</text>
<text transform="translate(948.5,937.5) scale(1,1.06)" font-size="9" fill="#000" text-anchor="start" font-weight="normal" >27 Jan 08:00</text>
<text transform="translate(1012.5,937.5) scale(1,1.06)" font-size="9" fill="#000" text-anchor="start" font-weight="normal" >28 Jan 16:00</text>
<text transform="translate(1076.5,937.5) scale(1,1.06)" font-size="9" fill="#000" text-anchor="start" font-weight="normal" >1 Feb 00:00</text>
<text transform="translate(1140.5,937.5) scale(1,1.06)" font-size="9" fill="#000" text-anchor="start" font-weight="normal" >2 Feb 08:00</text>
<text transform="translate(1204.5,937.5) scale(1,1.06)" font-size="9" fill="#000" text-anchor="start" font-weight="normal" >3 Feb 16:00</text>
<text transform="translate(1268.5,937.5) scale(1,1.06)" font-size="9" fill="#000" text-anchor="start" font-weight="normal" >7 Feb 00:00</text>
<text transform="translate(1332.5,937.5) scale(1,1.06)" font-size="9" fill="#000" text-anchor="start" font-weight="normal" >8 Feb 08:00</text>
<text transform="translate(1396.5,937.5) scale(1,1.06)" font-size="9" fill="#000" text-anchor="start" font-weight="normal" >9 Feb 16:00</text>
<line x1="1321.5" y1="632.8" x2="1407.5" y2="629.0" stroke="#ff0000" stroke-width="3.3"/>
<polygon points="1418.5,628.5 1405.7,634.1 1405.3,624.1" fill="#ff0000"/>
<line x1="1333.0" y1="817.3" x2="1395.8" y2="824.3" stroke="#ff0000" stroke-width="3.3"/>
<polygon points="1406.2,825.5 1393.3,828.7 1394.3,819.5" fill="#ff0000"/>
<g>
<rect x="0" y="44" width="44" height="24" fill="url(#gbtn)" shape-rendering="crispEdges"/>
<rect x="159" y="44" width="52" height="24" fill="url(#gbtn)" shape-rendering="crispEdges"/>
<rect x="0" y="68" width="101" height="33" fill="url(#gprice)" shape-rendering="crispEdges"/>
<rect x="103" y="68" width="108" height="33" fill="url(#gprice)" shape-rendering="crispEdges"/>
<rect x="0" y="67" width="40" height="1" fill="#8a8aff" shape-rendering="crispEdges"/>
<rect x="163" y="67" width="44" height="1" fill="#8a8aff" shape-rendering="crispEdges"/>
<rect x="44" y="44" width="115" height="24" fill="#f0f0f0" shape-rendering="crispEdges"/>
<rect x="46.5" y="44.5" width="110" height="21" fill="#fff" stroke="#b4b4b4" shape-rendering="crispEdges"/>
<rect x="47.5" y="45.5" width="19" height="19" fill="url(#gspin)" stroke="#c8c8c8" shape-rendering="crispEdges"/>
<rect x="136.5" y="45.5" width="19" height="19" fill="url(#gspin)" stroke="#c8c8c8" shape-rendering="crispEdges"/>
<polygon points="54,53 59,53 56.5,56" fill="#5a6eb4"/>
<polygon points="143,56 148,56 145.5,53" fill="#5a6eb4"/>
<text x="108.6" y="58.3" font-size="11" fill="#222" textLength="23" lengthAdjust="spacingAndGlyphs">1.00</text>
<text x="4.5" y="59" font-size="11" fill="#fff" textLength="25.5" lengthAdjust="spacingAndGlyphs">SELL</text>
<text x="172.5" y="59" font-size="11" fill="#fff" textLength="23.5" lengthAdjust="spacingAndGlyphs">BUY</text>
<text x="15.5" y="95.2" font-size="11" font-weight="bold" fill="#fff" textLength="20.5" lengthAdjust="spacingAndGlyphs">156</text>
<text x="40" y="95.8" font-size="33" fill="#fff" textLength="34.5" lengthAdjust="spacingAndGlyphs">34</text>
<text x="79" y="79.7" font-size="10.5" font-weight="bold" fill="#fff">8</text>
<text x="125.5" y="95.2" font-size="11" font-weight="bold" fill="#fff" textLength="20.5" lengthAdjust="spacingAndGlyphs">156</text>
<text x="150.5" y="95.8" font-size="33" fill="#fff" textLength="35" lengthAdjust="spacingAndGlyphs">38</text>
<text x="190.5" y="79.7" font-size="10.5" font-weight="bold" fill="#fff">7</text>
</g>
</svg>
</body></html>
